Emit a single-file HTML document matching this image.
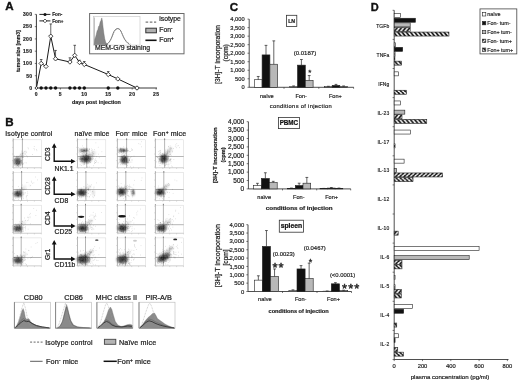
<!DOCTYPE html>
<html><head><meta charset="utf-8"><title>Figure</title>
<style>
html,body{margin:0;padding:0;background:#fff;}
svg{display:block;font-family:'Liberation Sans', sans-serif;filter:blur(0.3px);}
</style></head>
<body>
<svg width="520" height="385" viewBox="0 0 520 385">
<rect x="0" y="0" width="520" height="385" fill="#fff"/>
<text x="5.20" y="10.20" font-size="11.6" text-anchor="start" font-weight="bold" fill="#111" stroke="#111" stroke-width="0.37">A</text>
<line x1="36.40" y1="14.38" x2="36.40" y2="88.00" stroke="#222" stroke-width="0.9"/>
<line x1="36.40" y1="88.00" x2="157.00" y2="88.00" stroke="#222" stroke-width="0.9"/>
<line x1="34.80" y1="88.00" x2="36.40" y2="88.00" stroke="#222" stroke-width="0.6"/>
<text x="32.40" y="89.80" font-size="5.0" text-anchor="end" font-weight="bold" fill="#222" stroke="#222" stroke-width="0.16" letter-spacing="0.35">0</text>
<line x1="34.80" y1="75.73" x2="36.40" y2="75.73" stroke="#222" stroke-width="0.6"/>
<text x="32.40" y="77.53" font-size="5.0" text-anchor="end" font-weight="bold" fill="#222" stroke="#222" stroke-width="0.16" letter-spacing="0.35">50</text>
<line x1="34.80" y1="63.46" x2="36.40" y2="63.46" stroke="#222" stroke-width="0.6"/>
<text x="32.40" y="65.26" font-size="5.0" text-anchor="end" font-weight="bold" fill="#222" stroke="#222" stroke-width="0.16" letter-spacing="0.35">100</text>
<line x1="34.80" y1="51.19" x2="36.40" y2="51.19" stroke="#222" stroke-width="0.6"/>
<text x="32.40" y="52.99" font-size="5.0" text-anchor="end" font-weight="bold" fill="#222" stroke="#222" stroke-width="0.16" letter-spacing="0.35">150</text>
<line x1="34.80" y1="38.92" x2="36.40" y2="38.92" stroke="#222" stroke-width="0.6"/>
<text x="32.40" y="40.72" font-size="5.0" text-anchor="end" font-weight="bold" fill="#222" stroke="#222" stroke-width="0.16" letter-spacing="0.35">200</text>
<line x1="34.80" y1="26.65" x2="36.40" y2="26.65" stroke="#222" stroke-width="0.6"/>
<text x="32.40" y="28.45" font-size="5.0" text-anchor="end" font-weight="bold" fill="#222" stroke="#222" stroke-width="0.16" letter-spacing="0.35">250</text>
<line x1="34.80" y1="14.38" x2="36.40" y2="14.38" stroke="#222" stroke-width="0.6"/>
<text x="32.40" y="16.18" font-size="5.0" text-anchor="end" font-weight="bold" fill="#222" stroke="#222" stroke-width="0.16" letter-spacing="0.35">300</text>
<line x1="36.40" y1="88.00" x2="36.40" y2="89.60" stroke="#222" stroke-width="0.6"/>
<text x="36.40" y="96.00" font-size="5.0" text-anchor="middle" font-weight="bold" fill="#222" stroke="#222" stroke-width="0.16" letter-spacing="0.3">0</text>
<line x1="60.35" y1="88.00" x2="60.35" y2="89.60" stroke="#222" stroke-width="0.6"/>
<text x="60.35" y="96.00" font-size="5.0" text-anchor="middle" font-weight="bold" fill="#222" stroke="#222" stroke-width="0.16" letter-spacing="0.3">5</text>
<line x1="84.30" y1="88.00" x2="84.30" y2="89.60" stroke="#222" stroke-width="0.6"/>
<text x="84.30" y="96.00" font-size="5.0" text-anchor="middle" font-weight="bold" fill="#222" stroke="#222" stroke-width="0.16" letter-spacing="0.3">10</text>
<line x1="108.25" y1="88.00" x2="108.25" y2="89.60" stroke="#222" stroke-width="0.6"/>
<text x="108.25" y="96.00" font-size="5.0" text-anchor="middle" font-weight="bold" fill="#222" stroke="#222" stroke-width="0.16" letter-spacing="0.3">15</text>
<line x1="132.20" y1="88.00" x2="132.20" y2="89.60" stroke="#222" stroke-width="0.6"/>
<text x="132.20" y="96.00" font-size="5.0" text-anchor="middle" font-weight="bold" fill="#222" stroke="#222" stroke-width="0.16" letter-spacing="0.3">20</text>
<line x1="156.15" y1="88.00" x2="156.15" y2="89.60" stroke="#222" stroke-width="0.6"/>
<text x="156.15" y="96.00" font-size="5.0" text-anchor="middle" font-weight="bold" fill="#222" stroke="#222" stroke-width="0.16" letter-spacing="0.3">25</text>
<text x="96.40" y="104.40" font-size="5.4" text-anchor="middle" font-weight="bold" fill="#222" stroke="#222" stroke-width="0.17">days post injection</text>
<text x="19.70" y="51.20" font-size="5.05" text-anchor="middle" font-weight="bold" fill="#222" stroke="#222" stroke-width="0.16" transform="rotate(-90 19.7 51.2)">tumor size [mm3]</text>
<polyline fill="none" stroke="#1a1a1a" stroke-width="1.0" points="36.40,88.00 41.19,63.46 45.98,66.40 50.77,36.22 55.56,58.80 69.93,61.99 74.72,55.36 79.51,62.48 84.30,64.44 108.25,74.50 117.83,78.92 136.99,88.00"/>
<line x1="41.19" y1="63.46" x2="41.19" y2="59.53" stroke="#222" stroke-width="0.7"/>
<line x1="39.89" y1="59.53" x2="42.49" y2="59.53" stroke="#222" stroke-width="0.7"/>
<line x1="50.77" y1="36.22" x2="50.77" y2="23.95" stroke="#222" stroke-width="0.7"/>
<line x1="49.47" y1="23.95" x2="52.07" y2="23.95" stroke="#222" stroke-width="0.7"/>
<line x1="55.56" y1="58.80" x2="55.56" y2="50.45" stroke="#222" stroke-width="0.7"/>
<line x1="54.26" y1="50.45" x2="56.86" y2="50.45" stroke="#222" stroke-width="0.7"/>
<line x1="69.93" y1="61.99" x2="69.93" y2="57.82" stroke="#222" stroke-width="0.7"/>
<line x1="68.63" y1="57.82" x2="71.23" y2="57.82" stroke="#222" stroke-width="0.7"/>
<line x1="74.72" y1="55.36" x2="74.72" y2="45.30" stroke="#222" stroke-width="0.7"/>
<line x1="73.42" y1="45.30" x2="76.02" y2="45.30" stroke="#222" stroke-width="0.7"/>
<line x1="79.51" y1="62.48" x2="79.51" y2="60.27" stroke="#222" stroke-width="0.7"/>
<line x1="78.21" y1="60.27" x2="80.81" y2="60.27" stroke="#222" stroke-width="0.7"/>
<line x1="84.30" y1="64.44" x2="84.30" y2="61.50" stroke="#222" stroke-width="0.7"/>
<line x1="83.00" y1="61.50" x2="85.60" y2="61.50" stroke="#222" stroke-width="0.7"/>
<line x1="108.25" y1="74.50" x2="108.25" y2="71.56" stroke="#222" stroke-width="0.7"/>
<line x1="106.95" y1="71.56" x2="109.55" y2="71.56" stroke="#222" stroke-width="0.7"/>
<circle cx="41.19" cy="88.00" r="1.7" fill="#111"/>
<circle cx="45.98" cy="88.00" r="1.7" fill="#111"/>
<circle cx="50.77" cy="88.00" r="1.7" fill="#111"/>
<circle cx="55.56" cy="88.00" r="1.7" fill="#111"/>
<circle cx="69.93" cy="88.00" r="1.7" fill="#111"/>
<circle cx="74.72" cy="88.00" r="1.7" fill="#111"/>
<circle cx="79.51" cy="88.00" r="1.7" fill="#111"/>
<circle cx="84.30" cy="88.00" r="1.7" fill="#111"/>
<circle cx="108.25" cy="88.00" r="1.7" fill="#111"/>
<circle cx="117.83" cy="88.00" r="1.7" fill="#111"/>
<circle cx="136.99" cy="88.00" r="1.7" fill="#111"/>
<polygon points="36.40,86.50 37.90,88.00 36.40,89.50 34.90,88.00" fill="#fff" stroke="#1a1a1a" stroke-width="0.8"/>
<polygon points="41.19,61.26 43.39,63.46 41.19,65.66 38.99,63.46" fill="#fff" stroke="#1a1a1a" stroke-width="0.8"/>
<polygon points="45.98,64.20 48.18,66.40 45.98,68.60 43.78,66.40" fill="#fff" stroke="#1a1a1a" stroke-width="0.8"/>
<polygon points="50.77,34.02 52.97,36.22 50.77,38.42 48.57,36.22" fill="#fff" stroke="#1a1a1a" stroke-width="0.8"/>
<polygon points="55.56,56.60 57.76,58.80 55.56,61.00 53.36,58.80" fill="#fff" stroke="#1a1a1a" stroke-width="0.8"/>
<polygon points="69.93,59.79 72.13,61.99 69.93,64.19 67.73,61.99" fill="#fff" stroke="#1a1a1a" stroke-width="0.8"/>
<polygon points="74.72,53.16 76.92,55.36 74.72,57.56 72.52,55.36" fill="#fff" stroke="#1a1a1a" stroke-width="0.8"/>
<polygon points="79.51,60.28 81.71,62.48 79.51,64.68 77.31,62.48" fill="#fff" stroke="#1a1a1a" stroke-width="0.8"/>
<polygon points="84.30,62.24 86.50,64.44 84.30,66.64 82.10,64.44" fill="#fff" stroke="#1a1a1a" stroke-width="0.8"/>
<polygon points="108.25,72.30 110.45,74.50 108.25,76.70 106.05,74.50" fill="#fff" stroke="#1a1a1a" stroke-width="0.8"/>
<polygon points="117.83,76.72 120.03,78.92 117.83,81.12 115.63,78.92" fill="#fff" stroke="#1a1a1a" stroke-width="0.8"/>
<polygon points="136.99,85.80 139.19,88.00 136.99,90.20 134.79,88.00" fill="#fff" stroke="#1a1a1a" stroke-width="0.8"/>
<line x1="39.40" y1="14.40" x2="50.40" y2="14.40" stroke="#222" stroke-width="1.0"/>
<circle cx="45" cy="14.4" r="1.5" fill="#111"/>
<text x="52.30" y="16.00" font-size="4.6" text-anchor="start" font-weight="bold" fill="#222" stroke="#222" stroke-width="0.15">Fon-</text>
<line x1="39.40" y1="20.90" x2="50.40" y2="20.90" stroke="#222" stroke-width="1.0"/>
<polygon points="45,19 46.9,20.9 45,22.8 43.1,20.9" fill="#fff" stroke="#1a1a1a" stroke-width="0.7"/>
<text x="52.30" y="22.50" font-size="4.6" text-anchor="start" font-weight="bold" fill="#222" stroke="#222" stroke-width="0.15">Fon+</text>
<rect x="89.60" y="13.50" width="94.40" height="40.30" fill="#fff" stroke="#6a6a6a" stroke-width="1.0"/>
<rect x="93.50" y="16.50" width="46.50" height="28.60" fill="#fff" stroke="#c4c4c4" stroke-width="0.6"/>
<line x1="94.40" y1="17.50" x2="94.40" y2="45.00" stroke="#777" stroke-width="0.5"/>
<path d="M94.3,44.8 L94.8,39.5 L95.6,37 L96.3,34.5 L97.1,31 L97.9,29.5 L98.6,26.4 L99.4,25.6 L100.2,22 L101,20.4 L101.8,17.9 L102.4,21 L103.1,27.6 L103.9,33.6 L104.7,38.6 L105.6,42 L106.8,44.2 L108,44.8 Z" fill="#868686" stroke="#6a6a6a" stroke-width="0.4"/>
<path d="M105.5,44.6 C109.5,44 111.5,38 113.3,33 C115.3,28 118.8,27 120.8,31 C122.8,35 124.5,41.5 129.5,44.4" fill="none" stroke="#444" stroke-width="0.7"/>
<path d="M106,44 C110,43.4 112,37.5 113.9,32.6 C115.9,28 119.3,27.6 121.3,31.6 C123.3,36 125,42 130.5,44" fill="none" stroke="#888" stroke-width="0.6" stroke-dasharray="1 1"/>
<text x="95.00" y="50.10" font-size="6.9" text-anchor="start" font-weight="normal" fill="#222" stroke="#222" stroke-width="0.22">MEM-G/9 staining</text>
<line x1="145.60" y1="22.10" x2="156.20" y2="22.10" stroke="#777" stroke-width="1.3" stroke-dasharray="2.6 1.6"/>
<text x="159.30" y="21.40" font-size="6.8" text-anchor="start" font-weight="normal" fill="#222" stroke="#222" stroke-width="0.22">isotype</text>
<rect x="145.80" y="28.20" width="10.60" height="4.60" fill="#b0b0b0" stroke="#333" stroke-width="1.0"/>
<text x="159.30" y="32.00" font-size="6.8" text-anchor="start" font-weight="normal" fill="#222" stroke="#222" stroke-width="0.22">Fon<tspan dy="-2" font-size="4.5">-</tspan></text>
<line x1="145.40" y1="40.30" x2="156.60" y2="40.30" stroke="#111" stroke-width="1.6"/>
<text x="159.30" y="41.80" font-size="6.8" text-anchor="start" font-weight="normal" fill="#222" stroke="#222" stroke-width="0.22">Fon<tspan dy="-2" font-size="4.5">+</tspan></text>
<defs><filter id="bl" x="-50%" y="-50%" width="200%" height="200%"><feGaussianBlur stdDeviation="0.9"/></filter><filter id="bl2" x="-50%" y="-50%" width="200%" height="200%"><feGaussianBlur stdDeviation="0.5"/></filter></defs>
<text x="5.20" y="125.60" font-size="11.6" text-anchor="start" font-weight="bold" fill="#111" stroke="#111" stroke-width="0.37">B</text>
<text x="5.30" y="135.80" font-size="6.9" text-anchor="start" font-weight="normal" fill="#222" stroke="#222" stroke-width="0.22" letter-spacing="0.16">Isotype control</text>
<text x="74.50" y="135.80" font-size="6.9" text-anchor="start" font-weight="normal" fill="#222" stroke="#222" stroke-width="0.22" letter-spacing="0.16">naïve mice</text>
<text x="115.40" y="135.80" font-size="7.1" text-anchor="start" font-weight="normal" fill="#222" stroke="#222" stroke-width="0.23" letter-spacing="0.15">Fon<tspan dy="-2.2" font-size="4.8">-</tspan><tspan dy="2.2"> mice</tspan></text>
<text x="153.00" y="135.80" font-size="7.1" text-anchor="start" font-weight="normal" fill="#222" stroke="#222" stroke-width="0.23" letter-spacing="0.15">Fon<tspan dy="-2.2" font-size="4.8">+</tspan><tspan dy="2.2"> mice</tspan></text>
<rect x="13.20" y="139.80" width="28.30" height="28.00" fill="#fff" stroke="#d4d4d4" stroke-width="0.5"/>
<line x1="13.20" y1="139.80" x2="13.20" y2="167.80" stroke="#999" stroke-width="0.6"/>
<line x1="13.20" y1="167.80" x2="41.50" y2="167.80" stroke="#bdbdbd" stroke-width="0.5"/>
<line x1="22.40" y1="139.00" x2="22.40" y2="167.80" stroke="#858585" stroke-width="0.6"/>
<line x1="13.20" y1="156.50" x2="41.50" y2="156.50" stroke="#858585" stroke-width="0.6"/>
<line x1="13.70" y1="167.80" x2="13.70" y2="169.00" stroke="#bbb" stroke-width="0.5"/>
<line x1="12.00" y1="140.80" x2="13.20" y2="140.80" stroke="#bbb" stroke-width="0.5"/>
<line x1="20.60" y1="167.80" x2="20.60" y2="169.00" stroke="#bbb" stroke-width="0.5"/>
<line x1="12.00" y1="147.40" x2="13.20" y2="147.40" stroke="#bbb" stroke-width="0.5"/>
<line x1="27.50" y1="167.80" x2="27.50" y2="169.00" stroke="#bbb" stroke-width="0.5"/>
<line x1="12.00" y1="154.00" x2="13.20" y2="154.00" stroke="#bbb" stroke-width="0.5"/>
<line x1="34.40" y1="167.80" x2="34.40" y2="169.00" stroke="#bbb" stroke-width="0.5"/>
<line x1="12.00" y1="160.60" x2="13.20" y2="160.60" stroke="#bbb" stroke-width="0.5"/>
<line x1="41.30" y1="167.80" x2="41.30" y2="169.00" stroke="#bbb" stroke-width="0.5"/>
<line x1="12.00" y1="167.20" x2="13.20" y2="167.20" stroke="#bbb" stroke-width="0.5"/>
<line x1="13.20" y1="138.60" x2="13.20" y2="139.80" stroke="#888" stroke-width="0.8"/>
<line x1="22.40" y1="138.40" x2="22.40" y2="139.80" stroke="#777" stroke-width="0.9"/>
<ellipse cx="17.60" cy="161.50" rx="3.7" ry="4.1" fill="#000" opacity="0.52" filter="url(#bl)"/>
<ellipse cx="17.60" cy="161.50" rx="1.9" ry="2.3" fill="#000" opacity="0.26" filter="url(#bl)"/>
<ellipse cx="22.20" cy="154.80" rx="5" ry="1.6" fill="#000" opacity="0.1" filter="url(#bl)" transform="rotate(-45 22.20 154.80)"/>
<path d="M16.7,163.5h0.6M16.8,160.3h0.6M14.3,160.7h0.6M21.5,163.2h0.6M21.2,162.5h0.6M19.0,162.2h0.6M19.4,163.4h0.6M14.5,159.7h0.6M18.7,161.3h0.6M19.4,159.0h0.6M18.7,163.0h0.6M19.6,166.2h0.6M15.4,158.6h0.6M16.4,161.1h0.6M19.8,162.5h0.6M16.0,157.8h0.6M15.8,166.3h0.6M14.8,162.5h0.6M19.1,155.7h0.6M17.8,166.6h0.6M17.2,158.3h0.6M19.3,161.3h0.6M20.0,165.2h0.6M22.7,162.9h0.6M18.0,156.4h0.6M19.8,159.1h0.6M16.0,156.6h0.6M14.2,159.4h0.6M22.1,153.6h0.6M22.7,163.8h0.6M18.9,158.6h0.6M21.5,162.1h0.6M18.5,163.2h0.6M23.2,163.9h0.6M19.4,163.6h0.6M21.0,163.6h0.6M20.6,154.4h0.6M17.0,165.5h0.6M19.5,160.9h0.6M18.7,164.0h0.6M18.0,166.0h0.6M15.3,159.9h0.6M21.3,161.6h0.6M14.5,165.2h0.6M22.8,159.8h0.6M17.1,160.3h0.6M22.5,157.5h0.6M22.0,156.6h0.6M14.8,164.0h0.6M21.6,164.8h0.6M18.8,162.1h0.6M18.1,163.7h0.6M17.0,162.6h0.6M19.6,161.5h0.6M20.3,163.7h0.6M24.7,162.8h0.6M16.1,160.0h0.6M17.6,165.1h0.6M16.4,163.0h0.6M24.1,151.5h0.6M19.0,162.4h0.6M16.1,164.1h0.6M18.6,159.5h0.6M26.1,162.9h0.6M15.7,161.1h0.6M16.8,161.3h0.6M21.1,156.9h0.6M17.4,165.2h0.6M16.4,163.9h0.6M21.4,151.1h0.6M21.4,155.9h0.6M20.0,155.7h0.6M18.2,166.2h0.6M17.1,162.2h0.6M20.4,162.1h0.6M21.3,160.4h0.6M27.2,157.0h0.6M20.8,160.5h0.6M18.1,164.2h0.6M18.4,164.0h0.6M19.8,157.7h0.6M14.0,155.8h0.6M22.1,164.4h0.6M22.8,157.8h0.6M17.6,157.1h0.6M21.1,160.8h0.6M17.3,159.2h0.6M19.0,163.1h0.6M22.9,157.5h0.6M19.7,164.7h0.6M20.2,161.1h0.6M16.3,163.7h0.6M17.8,161.8h0.6M20.2,160.9h0.6M14.3,163.3h0.6M18.2,160.2h0.6M17.6,163.3h0.6M17.7,164.4h0.6M17.5,163.8h0.6M20.3,165.0h0.6M16.4,163.4h0.6M14.2,159.1h0.6M14.1,163.8h0.6M18.0,158.9h0.6M21.5,155.4h0.6M20.5,157.0h0.6M28.3,148.8h0.6M25.1,154.1h0.6M20.2,154.1h0.6M21.5,157.8h0.6M16.0,159.7h0.6M26.4,152.3h0.6M23.1,155.6h0.6M21.5,153.0h0.6M27.7,147.8h0.6M23.1,153.1h0.6M25.6,151.3h0.6M21.7,153.9h0.6M33.9,146.5h0.6M16.5,156.2h0.6M33.7,148.5h0.6M26.5,155.6h0.6M15.8,158.1h0.6M36.1,149.5h0.6M32.2,154.5h0.6M36.6,150.7h0.6M17.5,156.2h0.6M34.1,149.8h0.6" stroke="#000" stroke-width="0.6" opacity="0.28" fill="none"/>
<rect x="77.50" y="139.80" width="28.30" height="28.00" fill="#fff" stroke="#d4d4d4" stroke-width="0.5"/>
<line x1="77.50" y1="139.80" x2="77.50" y2="167.80" stroke="#999" stroke-width="0.6"/>
<line x1="77.50" y1="167.80" x2="105.80" y2="167.80" stroke="#bdbdbd" stroke-width="0.5"/>
<line x1="86.70" y1="139.00" x2="86.70" y2="167.80" stroke="#858585" stroke-width="0.6"/>
<line x1="77.50" y1="156.50" x2="105.80" y2="156.50" stroke="#858585" stroke-width="0.6"/>
<line x1="78.00" y1="167.80" x2="78.00" y2="169.00" stroke="#bbb" stroke-width="0.5"/>
<line x1="76.30" y1="140.80" x2="77.50" y2="140.80" stroke="#bbb" stroke-width="0.5"/>
<line x1="84.90" y1="167.80" x2="84.90" y2="169.00" stroke="#bbb" stroke-width="0.5"/>
<line x1="76.30" y1="147.40" x2="77.50" y2="147.40" stroke="#bbb" stroke-width="0.5"/>
<line x1="91.80" y1="167.80" x2="91.80" y2="169.00" stroke="#bbb" stroke-width="0.5"/>
<line x1="76.30" y1="154.00" x2="77.50" y2="154.00" stroke="#bbb" stroke-width="0.5"/>
<line x1="98.70" y1="167.80" x2="98.70" y2="169.00" stroke="#bbb" stroke-width="0.5"/>
<line x1="76.30" y1="160.60" x2="77.50" y2="160.60" stroke="#bbb" stroke-width="0.5"/>
<line x1="105.60" y1="167.80" x2="105.60" y2="169.00" stroke="#bbb" stroke-width="0.5"/>
<line x1="76.30" y1="167.20" x2="77.50" y2="167.20" stroke="#bbb" stroke-width="0.5"/>
<line x1="77.50" y1="138.60" x2="77.50" y2="139.80" stroke="#888" stroke-width="0.8"/>
<line x1="86.70" y1="138.40" x2="86.70" y2="139.80" stroke="#777" stroke-width="0.9"/>
<ellipse cx="85.70" cy="158.80" rx="6.0" ry="4.0" fill="#000" opacity="0.5" filter="url(#bl)"/>
<ellipse cx="85.70" cy="158.80" rx="3" ry="2" fill="#000" opacity="0.42" filter="url(#bl)"/>
<ellipse cx="83.70" cy="150.50" rx="4.6" ry="1.4" fill="#000" opacity="0.48" filter="url(#bl)"/>
<ellipse cx="83.70" cy="150.50" rx="2.6" ry="0.8" fill="#000" opacity="0.3" filter="url(#bl)"/>
<ellipse cx="91.50" cy="154.80" rx="5" ry="2" fill="#000" opacity="0.12" filter="url(#bl)" transform="rotate(-35 91.50 154.80)"/>
<path d="M80.5,158.5h0.6M87.4,161.9h0.6M85.5,158.1h0.6M79.9,157.4h0.6M90.8,159.2h0.6M80.8,155.6h0.6M100.9,163.1h0.6M89.3,148.9h0.6M89.2,160.6h0.6M95.3,160.4h0.6M85.3,160.8h0.6M87.6,156.1h0.6M93.3,165.7h0.6M87.4,159.5h0.6M83.4,155.1h0.6M97.8,162.7h0.6M78.9,153.7h0.6M95.4,162.6h0.6M96.1,161.9h0.6M80.7,159.8h0.6M85.4,160.8h0.6M81.6,158.3h0.6M88.3,160.2h0.6M89.3,159.6h0.6M83.9,161.8h0.6M86.0,155.7h0.6M82.1,158.8h0.6M85.1,159.4h0.6M85.7,159.5h0.6M84.9,154.0h0.6M88.1,162.8h0.6M88.2,158.1h0.6M88.2,155.1h0.6M80.4,161.6h0.6M79.5,148.8h0.6M79.8,164.8h0.6M83.5,153.6h0.6M81.3,160.8h0.6M88.5,159.5h0.6M94.2,161.5h0.6M85.6,161.1h0.6M95.1,162.5h0.6M91.5,154.7h0.6M84.9,161.6h0.6M84.0,162.9h0.6M89.1,162.3h0.6M92.8,158.0h0.6M83.7,162.1h0.6M91.3,158.8h0.6M79.0,159.5h0.6M87.7,163.1h0.6M90.2,158.9h0.6M90.6,160.9h0.6M86.9,159.0h0.6M84.3,161.4h0.6M79.7,156.4h0.6M85.7,153.2h0.6M83.2,151.2h0.6M81.8,161.0h0.6M88.9,158.6h0.6M84.4,153.4h0.6M96.1,160.8h0.6M91.9,155.4h0.6M84.6,151.9h0.6M90.1,162.4h0.6M89.3,152.1h0.6M82.1,153.5h0.6M85.9,159.7h0.6M89.3,161.5h0.6M94.3,163.2h0.6M78.2,156.9h0.6M79.7,154.7h0.6M85.2,158.8h0.6M88.5,152.8h0.6M78.6,158.7h0.6M84.6,157.6h0.6M85.3,155.9h0.6M89.7,160.1h0.6M85.2,156.2h0.6M84.7,148.5h0.6M80.1,158.9h0.6M86.5,153.6h0.6M84.3,157.6h0.6M88.3,161.1h0.6M85.5,155.6h0.6M84.9,158.6h0.6M89.9,159.9h0.6M81.6,153.7h0.6M83.6,156.0h0.6M79.4,158.4h0.6M82.9,159.2h0.6M88.7,157.2h0.6M98.9,157.6h0.6M92.0,159.3h0.6M92.1,149.8h0.6M81.4,159.7h0.6M87.5,163.7h0.6M90.1,162.4h0.6M88.6,158.2h0.6M88.6,154.7h0.6M92.4,154.9h0.6M87.1,166.9h0.6M84.4,158.9h0.6M92.3,158.9h0.6M81.1,159.8h0.6M89.0,161.5h0.6M81.3,165.5h0.6M95.2,158.9h0.6M87.2,157.2h0.6M93.8,156.1h0.6M89.5,157.0h0.6M81.7,161.5h0.6M93.3,158.8h0.6M81.8,161.9h0.6M85.4,160.0h0.6M94.4,163.1h0.6M85.7,161.8h0.6M82.0,158.6h0.6M93.5,154.2h0.6M92.4,157.1h0.6M85.4,157.6h0.6M85.0,154.7h0.6M85.8,153.3h0.6M85.3,160.0h0.6M88.4,157.9h0.6M80.5,159.4h0.6M82.9,164.8h0.6M90.1,158.4h0.6M83.0,156.1h0.6M80.4,157.5h0.6M87.4,160.8h0.6M88.9,166.8h0.6M81.7,158.8h0.6M101.6,151.7h0.6M82.7,159.4h0.6M86.6,160.3h0.6M84.3,160.2h0.6M86.0,161.7h0.6M85.7,154.9h0.6M79.7,161.2h0.6M82.0,161.2h0.6M90.0,160.0h0.6M88.6,158.4h0.6M88.3,156.8h0.6M85.1,161.6h0.6M80.7,161.2h0.6M96.3,156.7h0.6M86.5,158.2h0.6M94.5,160.0h0.6M90.8,156.2h0.6M85.6,158.8h0.6M90.8,152.2h0.6M87.8,158.6h0.6M87.0,159.5h0.6M81.4,158.4h0.6M90.0,157.7h0.6M82.8,156.2h0.6M82.2,159.4h0.6M90.5,159.6h0.6M86.4,163.0h0.6M84.2,157.5h0.6M87.2,159.8h0.6M82.8,156.6h0.6M86.5,159.3h0.6M82.0,158.4h0.6M84.2,159.7h0.6M85.4,158.6h0.6M84.7,160.8h0.6M89.7,158.1h0.6M88.1,157.4h0.6M85.9,160.2h0.6M90.0,158.1h0.6M85.5,159.2h0.6M81.4,158.8h0.6M83.8,159.5h0.6M82.5,155.0h0.6M85.8,159.3h0.6M84.1,160.5h0.6M84.9,157.6h0.6M87.1,155.8h0.6M83.8,158.8h0.6M88.1,158.5h0.6M86.6,157.6h0.6M86.6,162.0h0.6M83.7,163.3h0.6M83.9,158.8h0.6M86.2,160.7h0.6M78.3,147.7h0.6M86.3,151.6h0.6M86.4,154.0h0.6M84.6,150.8h0.6M87.8,151.0h0.6M91.0,148.9h0.6M82.1,145.9h0.6M87.3,150.0h0.6M87.7,153.4h0.6M83.7,150.2h0.6M81.5,149.4h0.6M80.9,151.4h0.6M83.9,150.6h0.6M82.9,151.7h0.6M85.9,150.3h0.6M86.6,150.3h0.6M78.7,152.4h0.6M85.7,149.2h0.6M88.4,151.0h0.6M85.2,151.7h0.6M84.6,150.3h0.6M83.8,150.1h0.6M85.2,150.6h0.6M86.7,150.0h0.6M83.5,147.7h0.6M81.9,151.4h0.6M89.5,150.0h0.6M83.2,152.6h0.6M82.3,151.5h0.6M91.0,150.6h0.6M89.1,149.6h0.6M84.6,150.4h0.6M84.2,152.0h0.6M94.1,149.6h0.6M81.2,151.2h0.6M79.1,151.2h0.6M86.2,150.1h0.6M86.0,148.4h0.6M87.0,148.4h0.6M80.7,149.8h0.6M81.9,151.6h0.6M83.9,150.2h0.6M85.0,151.7h0.6M83.7,150.8h0.6M86.8,150.7h0.6M80.5,152.4h0.6M89.2,149.0h0.6M83.6,150.8h0.6M86.1,151.0h0.6M89.3,153.9h0.6M93.0,156.1h0.6M86.1,156.2h0.6M89.3,151.9h0.6M90.0,154.8h0.6M92.5,152.5h0.6M87.6,156.6h0.6M90.6,153.9h0.6M92.4,155.9h0.6M98.0,154.2h0.6M88.0,156.3h0.6M83.9,164.5h0.6M88.6,156.7h0.6M92.1,151.3h0.6M93.3,153.5h0.6M84.7,160.2h0.6M97.9,147.3h0.6M87.4,158.5h0.6M95.6,142.8h0.6M89.5,154.3h0.6M86.6,152.9h0.6M80.1,159.2h0.6M84.0,159.8h0.6M84.5,162.1h0.6M93.6,151.4h0.6M86.4,155.6h0.6M87.9,160.9h0.6M92.4,153.3h0.6M85.4,154.7h0.6M84.1,164.1h0.6" stroke="#000" stroke-width="0.6" opacity="0.28" fill="none"/>
<rect x="117.40" y="139.80" width="28.30" height="28.00" fill="#fff" stroke="#d4d4d4" stroke-width="0.5"/>
<line x1="117.40" y1="139.80" x2="117.40" y2="167.80" stroke="#999" stroke-width="0.6"/>
<line x1="117.40" y1="167.80" x2="145.70" y2="167.80" stroke="#bdbdbd" stroke-width="0.5"/>
<line x1="126.60" y1="139.00" x2="126.60" y2="167.80" stroke="#858585" stroke-width="0.6"/>
<line x1="117.40" y1="156.50" x2="145.70" y2="156.50" stroke="#858585" stroke-width="0.6"/>
<line x1="117.90" y1="167.80" x2="117.90" y2="169.00" stroke="#bbb" stroke-width="0.5"/>
<line x1="116.20" y1="140.80" x2="117.40" y2="140.80" stroke="#bbb" stroke-width="0.5"/>
<line x1="124.80" y1="167.80" x2="124.80" y2="169.00" stroke="#bbb" stroke-width="0.5"/>
<line x1="116.20" y1="147.40" x2="117.40" y2="147.40" stroke="#bbb" stroke-width="0.5"/>
<line x1="131.70" y1="167.80" x2="131.70" y2="169.00" stroke="#bbb" stroke-width="0.5"/>
<line x1="116.20" y1="154.00" x2="117.40" y2="154.00" stroke="#bbb" stroke-width="0.5"/>
<line x1="138.60" y1="167.80" x2="138.60" y2="169.00" stroke="#bbb" stroke-width="0.5"/>
<line x1="116.20" y1="160.60" x2="117.40" y2="160.60" stroke="#bbb" stroke-width="0.5"/>
<line x1="145.50" y1="167.80" x2="145.50" y2="169.00" stroke="#bbb" stroke-width="0.5"/>
<line x1="116.20" y1="167.20" x2="117.40" y2="167.20" stroke="#bbb" stroke-width="0.5"/>
<line x1="117.40" y1="138.60" x2="117.40" y2="139.80" stroke="#888" stroke-width="0.8"/>
<line x1="126.60" y1="138.40" x2="126.60" y2="139.80" stroke="#777" stroke-width="0.9"/>
<ellipse cx="124.20" cy="159.70" rx="3.9" ry="4.0" fill="#000" opacity="0.55" filter="url(#bl)"/>
<ellipse cx="124.20" cy="159.70" rx="2" ry="2.2" fill="#000" opacity="0.4" filter="url(#bl)"/>
<ellipse cx="122.60" cy="150.40" rx="4.4" ry="1.4" fill="#000" opacity="0.58" filter="url(#bl)"/>
<ellipse cx="122.60" cy="150.40" rx="2.6" ry="0.8" fill="#000" opacity="0.35" filter="url(#bl)"/>
<path d="M121.6,161.4h0.6M122.4,164.2h0.6M121.8,162.8h0.6M132.4,150.0h0.6M122.6,161.6h0.6M123.9,157.2h0.6M132.2,160.0h0.6M118.1,162.9h0.6M122.1,160.3h0.6M128.9,160.1h0.6M119.0,153.3h0.6M128.6,162.5h0.6M121.2,163.0h0.6M126.0,162.2h0.6M127.5,162.5h0.6M127.5,150.4h0.6M124.8,161.6h0.6M133.7,156.1h0.6M123.0,159.8h0.6M127.5,158.0h0.6M128.5,156.7h0.6M125.2,157.7h0.6M124.8,157.1h0.6M118.3,163.9h0.6M125.3,157.6h0.6M124.9,163.5h0.6M120.6,159.3h0.6M126.2,161.7h0.6M123.0,151.7h0.6M128.8,160.9h0.6M124.2,158.6h0.6M125.2,158.1h0.6M120.4,156.9h0.6M122.0,157.4h0.6M119.9,162.1h0.6M119.3,162.2h0.6M120.4,161.0h0.6M129.3,160.5h0.6M121.5,159.9h0.6M124.7,153.1h0.6M121.9,160.3h0.6M122.5,160.0h0.6M126.9,162.6h0.6M127.6,161.9h0.6M123.1,159.6h0.6M123.2,158.5h0.6M123.5,153.1h0.6M123.0,159.6h0.6M120.6,159.6h0.6M126.1,159.1h0.6M131.9,149.8h0.6M123.4,152.8h0.6M126.1,158.6h0.6M126.2,151.2h0.6M127.4,161.1h0.6M124.3,157.5h0.6M126.6,157.9h0.6M125.0,157.8h0.6M124.9,162.6h0.6M121.0,159.6h0.6M126.5,160.3h0.6M120.8,152.4h0.6M127.4,165.5h0.6M127.6,162.8h0.6M121.9,157.0h0.6M127.5,156.2h0.6M133.4,167.0h0.6M121.7,156.9h0.6M125.1,156.9h0.6M129.1,159.4h0.6M120.2,164.7h0.6M122.0,160.5h0.6M124.2,158.5h0.6M125.4,157.1h0.6M119.5,156.8h0.6M124.1,159.9h0.6M126.3,160.2h0.6M121.3,157.0h0.6M126.0,161.7h0.6M123.8,159.0h0.6M127.7,159.8h0.6M126.9,161.9h0.6M125.0,164.7h0.6M122.1,158.3h0.6M121.2,156.7h0.6M130.0,166.4h0.6M124.3,161.9h0.6M128.6,162.8h0.6M128.7,154.9h0.6M121.8,161.4h0.6M129.5,160.1h0.6M121.0,158.4h0.6M121.8,156.4h0.6M129.8,157.3h0.6M128.6,161.0h0.6M121.9,161.3h0.6M130.2,162.1h0.6M128.9,160.1h0.6M126.1,158.9h0.6M125.8,164.6h0.6M118.9,159.5h0.6M125.1,157.5h0.6M123.1,162.7h0.6M131.6,162.1h0.6M125.4,153.8h0.6M131.3,160.0h0.6M124.1,155.5h0.6M124.0,155.5h0.6M124.5,161.5h0.6M124.3,160.3h0.6M122.6,162.7h0.6M123.0,155.9h0.6M123.8,158.1h0.6M122.3,159.0h0.6M124.8,157.2h0.6M123.9,162.7h0.6M125.5,159.4h0.6M124.4,159.4h0.6M124.1,161.2h0.6M124.0,154.7h0.6M124.2,157.8h0.6M125.4,158.4h0.6M124.5,164.3h0.6M122.2,157.3h0.6M121.5,154.7h0.6M120.6,160.5h0.6M123.0,155.8h0.6M121.4,161.0h0.6M122.7,158.9h0.6M124.8,162.5h0.6M127.9,161.9h0.6M124.5,160.1h0.6M127.6,162.7h0.6M121.3,151.0h0.6M123.8,150.5h0.6M120.5,148.6h0.6M120.4,148.3h0.6M127.7,151.1h0.6M126.3,147.9h0.6M130.3,151.5h0.6M131.2,148.8h0.6M124.8,151.0h0.6M123.4,150.6h0.6M127.0,148.4h0.6M120.3,149.6h0.6M124.1,150.8h0.6M122.7,149.5h0.6M120.8,151.7h0.6M125.8,150.5h0.6M121.3,152.5h0.6M120.1,151.3h0.6M127.4,150.0h0.6M126.1,148.9h0.6M126.8,150.7h0.6M118.9,152.1h0.6M119.8,150.2h0.6M123.8,150.0h0.6M123.7,149.7h0.6M125.4,150.4h0.6M123.5,146.7h0.6M127.5,150.4h0.6M124.6,151.8h0.6M118.1,152.5h0.6M121.9,153.6h0.6M122.0,151.3h0.6M121.1,148.9h0.6M127.2,151.6h0.6M129.0,151.5h0.6M120.2,148.2h0.6M119.9,149.5h0.6M119.2,151.2h0.6M124.0,150.0h0.6M123.3,150.2h0.6M123.5,151.4h0.6M126.6,149.5h0.6M123.1,151.9h0.6M122.7,148.5h0.6M121.3,151.0h0.6M125.3,151.6h0.6M120.5,149.3h0.6M123.9,151.1h0.6M123.1,149.4h0.6M124.5,151.0h0.6M124.0,150.0h0.6M123.4,151.0h0.6M121.2,149.0h0.6M123.4,150.8h0.6M124.1,160.7h0.6M122.9,161.2h0.6M139.8,144.2h0.6M141.4,146.8h0.6M141.1,141.7h0.6M130.1,157.9h0.6M123.1,163.0h0.6M131.2,150.3h0.6M131.5,156.8h0.6M128.2,150.7h0.6M125.7,153.4h0.6M129.3,158.7h0.6M138.5,143.6h0.6" stroke="#000" stroke-width="0.6" opacity="0.28" fill="none"/>
<rect x="155.40" y="139.80" width="28.30" height="28.00" fill="#fff" stroke="#d4d4d4" stroke-width="0.5"/>
<line x1="155.40" y1="139.80" x2="155.40" y2="167.80" stroke="#999" stroke-width="0.6"/>
<line x1="155.40" y1="167.80" x2="183.70" y2="167.80" stroke="#bdbdbd" stroke-width="0.5"/>
<line x1="164.60" y1="139.00" x2="164.60" y2="167.80" stroke="#858585" stroke-width="0.6"/>
<line x1="155.40" y1="156.50" x2="183.70" y2="156.50" stroke="#858585" stroke-width="0.6"/>
<line x1="155.90" y1="167.80" x2="155.90" y2="169.00" stroke="#bbb" stroke-width="0.5"/>
<line x1="154.20" y1="140.80" x2="155.40" y2="140.80" stroke="#bbb" stroke-width="0.5"/>
<line x1="162.80" y1="167.80" x2="162.80" y2="169.00" stroke="#bbb" stroke-width="0.5"/>
<line x1="154.20" y1="147.40" x2="155.40" y2="147.40" stroke="#bbb" stroke-width="0.5"/>
<line x1="169.70" y1="167.80" x2="169.70" y2="169.00" stroke="#bbb" stroke-width="0.5"/>
<line x1="154.20" y1="154.00" x2="155.40" y2="154.00" stroke="#bbb" stroke-width="0.5"/>
<line x1="176.60" y1="167.80" x2="176.60" y2="169.00" stroke="#bbb" stroke-width="0.5"/>
<line x1="154.20" y1="160.60" x2="155.40" y2="160.60" stroke="#bbb" stroke-width="0.5"/>
<line x1="183.50" y1="167.80" x2="183.50" y2="169.00" stroke="#bbb" stroke-width="0.5"/>
<line x1="154.20" y1="167.20" x2="155.40" y2="167.20" stroke="#bbb" stroke-width="0.5"/>
<line x1="155.40" y1="138.60" x2="155.40" y2="139.80" stroke="#888" stroke-width="0.8"/>
<line x1="164.60" y1="138.40" x2="164.60" y2="139.80" stroke="#777" stroke-width="0.9"/>
<ellipse cx="163.80" cy="158.80" rx="4.2" ry="4.2" fill="#000" opacity="0.55" filter="url(#bl)"/>
<ellipse cx="163.80" cy="158.80" rx="2.2" ry="2.2" fill="#000" opacity="0.45" filter="url(#bl)"/>
<ellipse cx="167.90" cy="152.30" rx="6" ry="1.9" fill="#000" opacity="0.2" filter="url(#bl)" transform="rotate(-50 167.90 152.30)"/>
<path d="M167.4,154.0h0.6M161.0,155.4h0.6M161.6,164.0h0.6M167.2,161.2h0.6M165.1,152.6h0.6M161.7,156.6h0.6M159.9,160.8h0.6M160.8,156.0h0.6M159.6,150.6h0.6M166.2,164.1h0.6M164.5,154.9h0.6M168.7,160.0h0.6M167.5,164.7h0.6M168.3,157.0h0.6M168.0,161.9h0.6M157.7,157.2h0.6M158.1,158.4h0.6M166.1,154.5h0.6M165.3,164.7h0.6M158.5,163.0h0.6M172.1,166.8h0.6M163.0,159.9h0.6M163.2,162.8h0.6M167.9,159.1h0.6M158.4,161.8h0.6M161.9,161.3h0.6M164.8,165.3h0.6M168.3,157.0h0.6M165.2,165.8h0.6M161.7,160.5h0.6M168.6,163.8h0.6M165.9,153.5h0.6M158.8,159.8h0.6M160.4,163.3h0.6M166.9,152.1h0.6M160.5,159.5h0.6M161.8,158.2h0.6M165.7,155.6h0.6M165.7,156.3h0.6M161.6,160.9h0.6M161.5,159.9h0.6M170.2,158.9h0.6M163.2,161.7h0.6M162.3,163.1h0.6M158.7,161.3h0.6M161.8,155.6h0.6M170.9,155.4h0.6M170.8,161.4h0.6M169.6,154.9h0.6M168.6,164.6h0.6M163.3,158.3h0.6M173.6,159.5h0.6M162.1,156.3h0.6M165.6,160.1h0.6M164.5,165.7h0.6M162.5,160.7h0.6M169.6,154.8h0.6M167.9,166.1h0.6M158.4,154.4h0.6M159.7,151.4h0.6M165.6,151.4h0.6M165.8,164.6h0.6M157.4,157.5h0.6M156.1,161.9h0.6M160.9,157.7h0.6M164.0,161.0h0.6M162.4,158.9h0.6M161.6,159.3h0.6M159.1,159.1h0.6M156.1,156.8h0.6M171.4,159.1h0.6M158.8,159.8h0.6M159.9,152.2h0.6M160.9,161.7h0.6M165.3,158.4h0.6M160.1,154.5h0.6M169.2,159.8h0.6M160.0,150.4h0.6M159.2,158.5h0.6M164.6,158.2h0.6M162.7,153.3h0.6M159.6,165.5h0.6M160.8,162.2h0.6M157.0,157.7h0.6M164.8,162.9h0.6M159.3,161.2h0.6M165.3,155.9h0.6M165.7,155.2h0.6M160.6,158.7h0.6M159.8,153.0h0.6M162.1,161.8h0.6M162.2,163.9h0.6M159.2,153.6h0.6M170.0,160.4h0.6M167.6,155.5h0.6M167.0,159.8h0.6M166.4,158.9h0.6M168.6,156.2h0.6M160.0,152.9h0.6M168.4,155.9h0.6M159.6,155.1h0.6M162.0,153.7h0.6M162.6,156.3h0.6M161.6,155.0h0.6M163.9,157.0h0.6M164.3,159.8h0.6M165.2,150.1h0.6M161.7,155.6h0.6M166.9,152.5h0.6M160.9,157.6h0.6M162.5,162.8h0.6M162.0,162.6h0.6M158.0,151.6h0.6M168.7,160.5h0.6M165.7,159.3h0.6M165.7,153.9h0.6M167.6,156.7h0.6M167.7,159.2h0.6M168.3,158.3h0.6M162.2,159.8h0.6M162.1,156.6h0.6M164.2,159.4h0.6M169.9,159.0h0.6M171.3,166.0h0.6M170.6,163.0h0.6M164.3,159.3h0.6M163.2,155.9h0.6M163.5,156.2h0.6M170.3,160.9h0.6M162.9,154.8h0.6M163.7,157.9h0.6M161.5,156.4h0.6M159.1,160.0h0.6M163.7,164.2h0.6M163.7,158.5h0.6M166.8,159.1h0.6M164.1,158.0h0.6M162.5,161.9h0.6M165.9,162.4h0.6M163.1,158.9h0.6M162.0,160.8h0.6M160.9,160.0h0.6M166.1,161.7h0.6M161.8,161.1h0.6M162.3,157.2h0.6M161.0,161.2h0.6M167.2,157.6h0.6M162.2,158.1h0.6M169.0,160.9h0.6M162.7,155.1h0.6M162.4,161.3h0.6M167.7,158.2h0.6M162.4,157.7h0.6M159.9,160.7h0.6M161.5,161.0h0.6M160.2,156.1h0.6M164.4,157.2h0.6M165.4,158.8h0.6M161.3,160.1h0.6M168.3,146.4h0.6M175.3,144.9h0.6M168.1,146.8h0.6M164.8,155.0h0.6M169.8,145.9h0.6M161.9,153.8h0.6M167.5,153.8h0.6M160.9,159.0h0.6M172.0,151.9h0.6M169.9,149.0h0.6M162.3,156.4h0.6M165.7,155.4h0.6M170.0,154.5h0.6M167.5,149.8h0.6M174.9,146.7h0.6M167.3,151.0h0.6M159.6,159.3h0.6M170.1,147.4h0.6M163.3,158.3h0.6M169.6,151.9h0.6M172.3,151.1h0.6M166.2,157.1h0.6M165.2,157.4h0.6M168.9,151.8h0.6M171.4,148.1h0.6M173.2,148.5h0.6M167.6,151.1h0.6M164.4,155.0h0.6M167.1,153.2h0.6M169.5,147.9h0.6M169.5,156.4h0.6M170.5,153.9h0.6M176.4,147.7h0.6M159.6,163.4h0.6M162.7,162.2h0.6M170.7,148.5h0.6M179.3,147.6h0.6M170.4,159.5h0.6M160.7,156.9h0.6M176.5,143.7h0.6M170.4,159.6h0.6M178.3,145.6h0.6M160.7,162.0h0.6M176.8,145.9h0.6" stroke="#000" stroke-width="0.6" opacity="0.28" fill="none"/>
<rect x="13.20" y="172.50" width="28.30" height="28.00" fill="#fff" stroke="#d4d4d4" stroke-width="0.5"/>
<line x1="13.20" y1="172.50" x2="13.20" y2="200.50" stroke="#999" stroke-width="0.6"/>
<line x1="13.20" y1="200.50" x2="41.50" y2="200.50" stroke="#bdbdbd" stroke-width="0.5"/>
<line x1="21.60" y1="171.70" x2="21.60" y2="200.50" stroke="#858585" stroke-width="0.6"/>
<line x1="13.20" y1="189.50" x2="41.50" y2="189.50" stroke="#858585" stroke-width="0.6"/>
<line x1="13.70" y1="200.50" x2="13.70" y2="201.70" stroke="#bbb" stroke-width="0.5"/>
<line x1="12.00" y1="173.50" x2="13.20" y2="173.50" stroke="#bbb" stroke-width="0.5"/>
<line x1="20.60" y1="200.50" x2="20.60" y2="201.70" stroke="#bbb" stroke-width="0.5"/>
<line x1="12.00" y1="180.10" x2="13.20" y2="180.10" stroke="#bbb" stroke-width="0.5"/>
<line x1="27.50" y1="200.50" x2="27.50" y2="201.70" stroke="#bbb" stroke-width="0.5"/>
<line x1="12.00" y1="186.70" x2="13.20" y2="186.70" stroke="#bbb" stroke-width="0.5"/>
<line x1="34.40" y1="200.50" x2="34.40" y2="201.70" stroke="#bbb" stroke-width="0.5"/>
<line x1="12.00" y1="193.30" x2="13.20" y2="193.30" stroke="#bbb" stroke-width="0.5"/>
<line x1="41.30" y1="200.50" x2="41.30" y2="201.70" stroke="#bbb" stroke-width="0.5"/>
<line x1="12.00" y1="199.90" x2="13.20" y2="199.90" stroke="#bbb" stroke-width="0.5"/>
<line x1="13.20" y1="171.30" x2="13.20" y2="172.50" stroke="#888" stroke-width="0.8"/>
<line x1="21.60" y1="171.10" x2="21.60" y2="172.50" stroke="#777" stroke-width="0.9"/>
<ellipse cx="18.00" cy="193.80" rx="4.4" ry="3.2" fill="#000" opacity="0.55" filter="url(#bl)"/>
<ellipse cx="18.00" cy="193.80" rx="2.4" ry="1.7" fill="#000" opacity="0.32" filter="url(#bl)"/>
<ellipse cx="23.20" cy="188.50" rx="4" ry="1.4" fill="#000" opacity="0.1" filter="url(#bl)" transform="rotate(-40 23.20 188.50)"/>
<ellipse cx="29.70" cy="185.50" rx="0.8" ry="0.8" fill="#000" opacity="0.12" filter="url(#bl)"/>
<path d="M19.5,189.1h0.6M20.2,194.4h0.6M18.3,186.6h0.6M16.4,191.5h0.6M20.9,195.5h0.6M17.9,195.4h0.6M15.5,194.0h0.6M18.2,195.5h0.6M17.7,193.4h0.6M17.4,191.8h0.6M27.3,195.4h0.6M23.9,189.1h0.6M20.9,196.3h0.6M25.9,197.8h0.6M21.2,190.2h0.6M14.4,194.6h0.6M20.1,190.7h0.6M16.4,192.6h0.6M18.3,194.8h0.6M16.8,190.0h0.6M23.2,198.7h0.6M17.6,196.9h0.6M19.9,195.8h0.6M20.0,191.5h0.6M20.4,196.9h0.6M14.3,199.8h0.6M26.7,199.3h0.6M26.3,196.1h0.6M16.6,192.0h0.6M14.6,194.2h0.6M17.9,195.8h0.6M27.5,193.7h0.6M20.8,195.2h0.6M19.1,193.2h0.6M17.5,191.3h0.6M18.7,193.7h0.6M19.3,191.2h0.6M18.2,193.9h0.6M20.5,190.6h0.6M19.8,196.8h0.6M20.5,192.7h0.6M15.9,193.1h0.6M21.0,198.5h0.6M17.3,191.8h0.6M19.6,194.4h0.6M14.2,191.6h0.6M17.6,195.8h0.6M20.1,190.1h0.6M18.5,194.9h0.6M17.5,190.7h0.6M17.8,192.8h0.6M19.4,191.2h0.6M22.6,188.7h0.6M17.3,193.8h0.6M22.0,192.0h0.6M20.3,192.1h0.6M21.1,199.1h0.6M16.3,195.1h0.6M14.1,196.8h0.6M23.1,193.9h0.6M22.8,197.1h0.6M21.4,188.2h0.6M15.2,198.1h0.6M25.9,196.1h0.6M22.7,192.8h0.6M17.2,193.7h0.6M20.9,193.4h0.6M18.8,195.1h0.6M18.0,199.4h0.6M19.8,194.1h0.6M17.1,191.9h0.6M23.6,194.3h0.6M17.4,192.4h0.6M22.5,190.3h0.6M20.1,194.2h0.6M17.6,195.3h0.6M16.1,194.7h0.6M21.3,197.0h0.6M17.9,192.0h0.6M22.5,187.4h0.6M14.7,195.8h0.6M20.7,190.7h0.6M18.6,191.1h0.6M18.2,196.5h0.6M21.1,187.5h0.6M21.2,188.4h0.6M22.8,195.0h0.6M27.4,191.9h0.6M18.0,197.0h0.6M15.3,191.7h0.6M16.4,193.6h0.6M20.3,194.0h0.6M25.1,192.8h0.6M23.5,192.1h0.6M19.7,190.7h0.6M18.5,193.5h0.6M16.9,192.8h0.6M17.2,192.6h0.6M16.7,193.0h0.6M15.6,193.6h0.6M19.8,193.4h0.6M16.9,196.0h0.6M20.2,195.3h0.6M20.6,193.3h0.6M17.7,195.6h0.6M16.7,193.6h0.6M18.9,194.4h0.6M17.4,195.4h0.6M17.6,195.0h0.6M20.4,194.9h0.6M19.7,191.9h0.6M18.9,191.1h0.6M25.9,188.9h0.6M19.9,191.8h0.6M20.1,189.8h0.6M23.0,189.9h0.6M24.8,189.2h0.6M21.1,191.8h0.6M30.4,185.6h0.6M33.6,182.8h0.6M24.6,193.0h0.6M22.3,188.9h0.6M19.2,192.6h0.6M15.6,195.9h0.6M32.1,183.3h0.6M35.3,177.0h0.6M21.0,192.1h0.6M30.9,181.1h0.6M26.3,182.6h0.6M27.6,182.4h0.6M31.4,182.2h0.6M37.4,179.9h0.6M22.3,185.0h0.6" stroke="#000" stroke-width="0.6" opacity="0.28" fill="none"/>
<rect x="77.50" y="172.50" width="28.30" height="28.00" fill="#fff" stroke="#d4d4d4" stroke-width="0.5"/>
<line x1="77.50" y1="172.50" x2="77.50" y2="200.50" stroke="#999" stroke-width="0.6"/>
<line x1="77.50" y1="200.50" x2="105.80" y2="200.50" stroke="#bdbdbd" stroke-width="0.5"/>
<line x1="85.90" y1="171.70" x2="85.90" y2="200.50" stroke="#858585" stroke-width="0.6"/>
<line x1="77.50" y1="189.50" x2="105.80" y2="189.50" stroke="#858585" stroke-width="0.6"/>
<line x1="78.00" y1="200.50" x2="78.00" y2="201.70" stroke="#bbb" stroke-width="0.5"/>
<line x1="76.30" y1="173.50" x2="77.50" y2="173.50" stroke="#bbb" stroke-width="0.5"/>
<line x1="84.90" y1="200.50" x2="84.90" y2="201.70" stroke="#bbb" stroke-width="0.5"/>
<line x1="76.30" y1="180.10" x2="77.50" y2="180.10" stroke="#bbb" stroke-width="0.5"/>
<line x1="91.80" y1="200.50" x2="91.80" y2="201.70" stroke="#bbb" stroke-width="0.5"/>
<line x1="76.30" y1="186.70" x2="77.50" y2="186.70" stroke="#bbb" stroke-width="0.5"/>
<line x1="98.70" y1="200.50" x2="98.70" y2="201.70" stroke="#bbb" stroke-width="0.5"/>
<line x1="76.30" y1="193.30" x2="77.50" y2="193.30" stroke="#bbb" stroke-width="0.5"/>
<line x1="105.60" y1="200.50" x2="105.60" y2="201.70" stroke="#bbb" stroke-width="0.5"/>
<line x1="76.30" y1="199.90" x2="77.50" y2="199.90" stroke="#bbb" stroke-width="0.5"/>
<line x1="77.50" y1="171.30" x2="77.50" y2="172.50" stroke="#888" stroke-width="0.8"/>
<line x1="85.90" y1="171.10" x2="85.90" y2="172.50" stroke="#777" stroke-width="0.9"/>
<ellipse cx="81.70" cy="192.70" rx="4.6" ry="3.2" fill="#000" opacity="0.62" filter="url(#bl)"/>
<ellipse cx="81.70" cy="192.70" rx="2.6" ry="1.8" fill="#000" opacity="0.45" filter="url(#bl)"/>
<ellipse cx="87.50" cy="188.50" rx="4" ry="1.4" fill="#000" opacity="0.14" filter="url(#bl)" transform="rotate(-40 87.50 188.50)"/>
<ellipse cx="93.40" cy="192.70" rx="0.9" ry="2.6" fill="#000" opacity="0.22" filter="url(#bl)"/>
<path d="M83.6,186.7h0.6M78.4,190.8h0.6M81.1,190.2h0.6M78.8,194.5h0.6M83.7,186.9h0.6M83.2,195.1h0.6M85.2,195.8h0.6M80.1,192.1h0.6M85.1,191.4h0.6M86.3,187.9h0.6M84.6,192.2h0.6M83.1,192.8h0.6M88.3,190.2h0.6M80.0,189.9h0.6M79.3,189.4h0.6M85.1,194.4h0.6M86.6,191.9h0.6M85.7,192.6h0.6M83.5,195.0h0.6M89.8,191.9h0.6M79.6,192.6h0.6M87.0,189.8h0.6M87.4,184.3h0.6M85.2,190.6h0.6M83.7,194.8h0.6M82.8,194.5h0.6M80.9,192.0h0.6M79.4,197.1h0.6M85.4,192.8h0.6M84.9,189.3h0.6M80.3,190.9h0.6M81.1,197.1h0.6M83.5,193.9h0.6M81.8,191.3h0.6M83.9,193.8h0.6M82.3,192.9h0.6M82.2,190.0h0.6M80.8,189.9h0.6M83.4,194.8h0.6M89.4,196.5h0.6M78.2,191.3h0.6M90.4,194.9h0.6M81.7,193.6h0.6M89.5,190.2h0.6M83.2,190.3h0.6M81.9,195.7h0.6M81.1,190.6h0.6M78.5,198.5h0.6M81.8,194.6h0.6M79.9,194.2h0.6M85.3,192.3h0.6M79.7,192.1h0.6M80.4,193.3h0.6M87.5,196.7h0.6M79.8,194.5h0.6M83.0,195.0h0.6M81.8,193.5h0.6M79.7,190.3h0.6M85.5,196.6h0.6M84.6,194.0h0.6M82.9,191.3h0.6M82.6,191.0h0.6M78.6,192.6h0.6M79.5,193.2h0.6M80.8,190.4h0.6M86.4,190.3h0.6M79.5,194.4h0.6M79.4,191.4h0.6M83.3,191.6h0.6M80.7,197.9h0.6M78.3,191.6h0.6M80.3,193.5h0.6M85.5,198.0h0.6M78.9,196.7h0.6M86.0,195.2h0.6M78.4,195.4h0.6M81.2,193.8h0.6M80.5,194.7h0.6M86.6,196.1h0.6M80.8,195.7h0.6M88.0,189.9h0.6M88.1,188.6h0.6M84.1,194.5h0.6M88.2,193.5h0.6M79.6,190.3h0.6M80.7,190.5h0.6M84.0,190.4h0.6M79.8,191.3h0.6M88.9,197.1h0.6M81.3,190.0h0.6M82.4,192.8h0.6M82.6,193.7h0.6M80.9,194.3h0.6M83.8,193.1h0.6M80.7,191.9h0.6M83.4,190.8h0.6M81.3,191.4h0.6M78.3,193.7h0.6M81.6,192.8h0.6M83.9,190.1h0.6M81.5,193.2h0.6M83.8,190.8h0.6M83.5,193.1h0.6M85.0,194.6h0.6M83.1,196.4h0.6M81.7,192.0h0.6M80.9,191.1h0.6M81.6,189.5h0.6M81.5,193.4h0.6M84.1,192.1h0.6M85.1,191.6h0.6M81.4,189.5h0.6M79.8,191.3h0.6M85.3,193.6h0.6M79.0,193.6h0.6M82.9,192.3h0.6M81.8,192.2h0.6M80.4,189.7h0.6M88.3,190.0h0.6M91.3,184.8h0.6M85.2,190.1h0.6M90.3,186.7h0.6M86.1,190.3h0.6M87.3,189.5h0.6M85.1,188.0h0.6M88.3,189.1h0.6M84.3,191.0h0.6M89.7,186.0h0.6M92.9,197.6h0.6M94.1,195.2h0.6M92.6,196.6h0.6M92.0,191.5h0.6M94.0,195.9h0.6M92.6,191.1h0.6M93.6,188.1h0.6M82.3,195.5h0.6M86.3,192.4h0.6M83.7,189.7h0.6M81.6,195.7h0.6M88.2,189.7h0.6M84.4,195.1h0.6M80.9,188.0h0.6M93.7,187.0h0.6M90.2,190.2h0.6M83.4,193.8h0.6M96.0,182.9h0.6M85.6,192.2h0.6M81.7,190.8h0.6M87.7,193.1h0.6" stroke="#000" stroke-width="0.6" opacity="0.28" fill="none"/>
<rect x="117.40" y="172.50" width="28.30" height="28.00" fill="#fff" stroke="#d4d4d4" stroke-width="0.5"/>
<line x1="117.40" y1="172.50" x2="117.40" y2="200.50" stroke="#999" stroke-width="0.6"/>
<line x1="117.40" y1="200.50" x2="145.70" y2="200.50" stroke="#bdbdbd" stroke-width="0.5"/>
<line x1="125.80" y1="171.70" x2="125.80" y2="200.50" stroke="#858585" stroke-width="0.6"/>
<line x1="117.40" y1="189.50" x2="145.70" y2="189.50" stroke="#858585" stroke-width="0.6"/>
<line x1="117.90" y1="200.50" x2="117.90" y2="201.70" stroke="#bbb" stroke-width="0.5"/>
<line x1="116.20" y1="173.50" x2="117.40" y2="173.50" stroke="#bbb" stroke-width="0.5"/>
<line x1="124.80" y1="200.50" x2="124.80" y2="201.70" stroke="#bbb" stroke-width="0.5"/>
<line x1="116.20" y1="180.10" x2="117.40" y2="180.10" stroke="#bbb" stroke-width="0.5"/>
<line x1="131.70" y1="200.50" x2="131.70" y2="201.70" stroke="#bbb" stroke-width="0.5"/>
<line x1="116.20" y1="186.70" x2="117.40" y2="186.70" stroke="#bbb" stroke-width="0.5"/>
<line x1="138.60" y1="200.50" x2="138.60" y2="201.70" stroke="#bbb" stroke-width="0.5"/>
<line x1="116.20" y1="193.30" x2="117.40" y2="193.30" stroke="#bbb" stroke-width="0.5"/>
<line x1="145.50" y1="200.50" x2="145.50" y2="201.70" stroke="#bbb" stroke-width="0.5"/>
<line x1="116.20" y1="199.90" x2="117.40" y2="199.90" stroke="#bbb" stroke-width="0.5"/>
<line x1="117.40" y1="171.30" x2="117.40" y2="172.50" stroke="#888" stroke-width="0.8"/>
<line x1="125.80" y1="171.10" x2="125.80" y2="172.50" stroke="#777" stroke-width="0.9"/>
<ellipse cx="121.60" cy="191.70" rx="4.4" ry="3.5" fill="#000" opacity="0.58" filter="url(#bl)"/>
<ellipse cx="121.60" cy="191.70" rx="2.4" ry="2" fill="#000" opacity="0.45" filter="url(#bl)"/>
<ellipse cx="133.10" cy="192.70" rx="1.2" ry="3.0" fill="#000" opacity="0.62" filter="url(#bl)"/>
<ellipse cx="126.40" cy="188.50" rx="3" ry="1.2" fill="#000" opacity="0.1" filter="url(#bl)" transform="rotate(-40 126.40 188.50)"/>
<path d="M127.0,185.4h0.6M125.2,196.8h0.6M124.9,186.9h0.6M120.4,193.6h0.6M123.3,189.1h0.6M118.0,194.8h0.6M121.7,192.7h0.6M124.4,187.0h0.6M129.9,187.2h0.6M123.5,194.0h0.6M120.1,191.0h0.6M120.7,189.9h0.6M122.6,192.2h0.6M119.1,192.5h0.6M121.5,191.5h0.6M126.0,186.2h0.6M122.6,188.3h0.6M120.3,196.5h0.6M119.2,194.7h0.6M123.7,190.6h0.6M120.3,195.2h0.6M118.0,190.5h0.6M122.2,193.0h0.6M119.5,195.0h0.6M130.6,190.4h0.6M129.1,185.0h0.6M127.2,190.6h0.6M122.2,190.6h0.6M119.0,187.6h0.6M120.0,195.8h0.6M126.2,190.6h0.6M119.5,189.5h0.6M124.3,192.1h0.6M119.6,188.4h0.6M126.9,194.2h0.6M123.6,193.1h0.6M125.7,189.0h0.6M127.9,196.0h0.6M121.6,193.2h0.6M118.5,191.2h0.6M122.4,196.0h0.6M125.4,194.3h0.6M120.1,191.0h0.6M120.2,192.4h0.6M121.7,190.1h0.6M128.3,191.4h0.6M127.9,195.4h0.6M119.6,193.0h0.6M126.8,190.6h0.6M122.0,189.9h0.6M121.8,190.6h0.6M121.9,194.9h0.6M127.2,192.1h0.6M122.4,194.4h0.6M120.4,188.3h0.6M126.1,188.7h0.6M125.3,188.6h0.6M128.9,188.4h0.6M125.0,196.5h0.6M118.3,186.1h0.6M124.5,193.9h0.6M120.8,183.6h0.6M121.4,190.7h0.6M120.1,190.8h0.6M128.8,196.6h0.6M120.1,189.4h0.6M123.2,195.1h0.6M124.5,188.0h0.6M122.3,192.1h0.6M127.4,195.5h0.6M123.7,195.6h0.6M120.0,196.6h0.6M119.9,193.0h0.6M125.3,188.8h0.6M118.8,186.1h0.6M122.3,191.5h0.6M120.3,193.3h0.6M122.0,190.9h0.6M124.8,197.3h0.6M119.8,188.7h0.6M119.2,192.0h0.6M124.0,189.0h0.6M125.6,188.4h0.6M124.9,193.1h0.6M123.5,198.6h0.6M120.5,191.2h0.6M123.5,194.5h0.6M118.6,193.7h0.6M127.1,191.9h0.6M121.2,192.3h0.6M123.9,192.2h0.6M120.0,189.4h0.6M120.9,195.6h0.6M121.2,196.0h0.6M122.7,191.7h0.6M126.6,187.6h0.6M119.4,193.8h0.6M124.0,185.2h0.6M127.5,189.8h0.6M119.2,197.0h0.6M121.3,187.7h0.6M119.0,189.4h0.6M125.1,192.8h0.6M118.6,196.8h0.6M119.4,191.9h0.6M121.7,193.1h0.6M120.9,192.5h0.6M126.2,191.9h0.6M119.2,192.3h0.6M119.8,191.0h0.6M122.0,192.3h0.6M121.0,193.2h0.6M121.2,189.3h0.6M123.5,191.0h0.6M124.3,190.5h0.6M122.9,192.3h0.6M119.1,194.3h0.6M124.0,192.6h0.6M123.1,190.8h0.6M121.6,192.1h0.6M122.5,193.0h0.6M121.1,190.4h0.6M120.4,192.4h0.6M120.7,190.7h0.6M121.0,186.8h0.6M120.9,191.2h0.6M123.3,188.1h0.6M120.9,192.6h0.6M122.7,193.9h0.6M123.9,189.8h0.6M133.8,191.8h0.6M132.2,196.9h0.6M132.4,190.4h0.6M132.7,190.4h0.6M134.2,193.7h0.6M134.6,193.8h0.6M132.4,195.6h0.6M132.4,191.4h0.6M132.9,192.8h0.6M134.4,191.0h0.6M133.5,192.6h0.6M131.7,189.7h0.6M132.9,193.8h0.6M133.5,194.0h0.6M133.2,191.5h0.6M133.6,189.9h0.6M131.6,191.8h0.6M131.5,191.3h0.6M132.3,191.2h0.6M133.1,190.5h0.6M132.6,188.0h0.6M133.3,190.3h0.6M133.5,184.9h0.6M132.2,193.4h0.6M130.4,191.7h0.6M133.2,193.0h0.6M131.5,193.3h0.6M133.3,190.0h0.6M133.9,192.6h0.6M133.1,191.5h0.6M133.7,193.0h0.6M129.1,186.9h0.6M124.9,189.4h0.6M128.1,186.6h0.6M127.6,188.3h0.6M124.4,186.9h0.6M127.4,193.3h0.6M127.8,190.8h0.6M130.9,187.3h0.6M127.5,191.5h0.6M122.5,192.8h0.6M129.7,186.4h0.6M119.5,193.5h0.6M141.7,177.9h0.6M124.9,193.2h0.6M129.2,189.2h0.6M134.4,180.4h0.6M140.9,180.4h0.6M126.4,189.3h0.6M125.8,186.6h0.6" stroke="#000" stroke-width="0.6" opacity="0.28" fill="none"/>
<rect x="155.40" y="172.50" width="28.30" height="28.00" fill="#fff" stroke="#d4d4d4" stroke-width="0.5"/>
<line x1="155.40" y1="172.50" x2="155.40" y2="200.50" stroke="#999" stroke-width="0.6"/>
<line x1="155.40" y1="200.50" x2="183.70" y2="200.50" stroke="#bdbdbd" stroke-width="0.5"/>
<line x1="163.80" y1="171.70" x2="163.80" y2="200.50" stroke="#858585" stroke-width="0.6"/>
<line x1="155.40" y1="189.50" x2="183.70" y2="189.50" stroke="#858585" stroke-width="0.6"/>
<line x1="155.90" y1="200.50" x2="155.90" y2="201.70" stroke="#bbb" stroke-width="0.5"/>
<line x1="154.20" y1="173.50" x2="155.40" y2="173.50" stroke="#bbb" stroke-width="0.5"/>
<line x1="162.80" y1="200.50" x2="162.80" y2="201.70" stroke="#bbb" stroke-width="0.5"/>
<line x1="154.20" y1="180.10" x2="155.40" y2="180.10" stroke="#bbb" stroke-width="0.5"/>
<line x1="169.70" y1="200.50" x2="169.70" y2="201.70" stroke="#bbb" stroke-width="0.5"/>
<line x1="154.20" y1="186.70" x2="155.40" y2="186.70" stroke="#bbb" stroke-width="0.5"/>
<line x1="176.60" y1="200.50" x2="176.60" y2="201.70" stroke="#bbb" stroke-width="0.5"/>
<line x1="154.20" y1="193.30" x2="155.40" y2="193.30" stroke="#bbb" stroke-width="0.5"/>
<line x1="183.50" y1="200.50" x2="183.50" y2="201.70" stroke="#bbb" stroke-width="0.5"/>
<line x1="154.20" y1="199.90" x2="155.40" y2="199.90" stroke="#bbb" stroke-width="0.5"/>
<line x1="155.40" y1="171.30" x2="155.40" y2="172.50" stroke="#888" stroke-width="0.8"/>
<line x1="163.80" y1="171.10" x2="163.80" y2="172.50" stroke="#777" stroke-width="0.9"/>
<ellipse cx="160.10" cy="192.20" rx="4.4" ry="3.2" fill="#000" opacity="0.6" filter="url(#bl)"/>
<ellipse cx="160.10" cy="192.20" rx="2.4" ry="1.8" fill="#000" opacity="0.45" filter="url(#bl)"/>
<ellipse cx="165.40" cy="187.50" rx="4.5" ry="1.4" fill="#000" opacity="0.2" filter="url(#bl)" transform="rotate(-42 165.40 187.50)"/>
<path d="M159.3,194.9h0.6M163.4,196.1h0.6M156.3,190.3h0.6M162.3,198.3h0.6M161.8,190.7h0.6M169.0,184.8h0.6M159.8,192.8h0.6M168.7,197.5h0.6M169.3,192.6h0.6M164.1,196.2h0.6M162.2,193.3h0.6M159.4,191.0h0.6M158.3,186.1h0.6M161.2,192.1h0.6M160.8,197.6h0.6M159.7,191.4h0.6M157.1,192.1h0.6M158.3,192.8h0.6M172.8,193.4h0.6M156.6,197.9h0.6M163.6,194.6h0.6M163.0,194.6h0.6M162.8,196.4h0.6M164.2,196.2h0.6M158.1,192.2h0.6M157.1,195.0h0.6M163.5,190.8h0.6M165.1,188.9h0.6M159.7,194.1h0.6M160.0,193.3h0.6M164.9,193.2h0.6M159.7,192.5h0.6M157.8,188.1h0.6M164.8,188.8h0.6M157.1,193.8h0.6M157.0,194.2h0.6M158.1,193.1h0.6M160.5,192.2h0.6M159.9,196.4h0.6M157.9,193.8h0.6M160.8,193.6h0.6M164.1,187.8h0.6M161.2,191.7h0.6M158.8,189.7h0.6M156.9,189.2h0.6M167.0,192.2h0.6M163.1,189.3h0.6M160.7,196.5h0.6M159.9,189.2h0.6M159.1,189.2h0.6M158.5,189.8h0.6M156.5,189.4h0.6M161.1,196.3h0.6M159.2,198.8h0.6M160.5,193.9h0.6M164.7,190.6h0.6M161.3,190.1h0.6M163.7,197.2h0.6M164.2,186.5h0.6M160.9,191.5h0.6M161.0,190.8h0.6M161.9,194.1h0.6M163.2,193.9h0.6M161.8,188.7h0.6M158.4,192.6h0.6M158.6,189.1h0.6M160.2,190.5h0.6M158.4,189.6h0.6M157.0,191.9h0.6M157.5,194.2h0.6M159.5,192.6h0.6M161.8,196.0h0.6M162.6,192.9h0.6M159.4,189.8h0.6M158.7,194.2h0.6M161.0,191.1h0.6M161.4,195.2h0.6M161.6,188.1h0.6M159.2,192.9h0.6M156.4,193.2h0.6M159.3,189.7h0.6M161.6,189.6h0.6M162.5,191.3h0.6M166.6,191.3h0.6M159.3,193.2h0.6M160.3,189.2h0.6M165.8,189.2h0.6M165.6,192.9h0.6M162.4,189.5h0.6M158.3,189.7h0.6M159.6,192.5h0.6M158.9,190.2h0.6M160.6,189.3h0.6M161.3,193.0h0.6M163.8,193.7h0.6M160.9,192.6h0.6M160.2,190.0h0.6M163.3,193.1h0.6M159.5,190.3h0.6M163.4,193.1h0.6M157.5,193.3h0.6M164.3,192.2h0.6M161.0,191.5h0.6M158.7,194.0h0.6M166.9,192.4h0.6M159.8,193.5h0.6M159.4,193.4h0.6M161.9,190.5h0.6M157.7,192.1h0.6M161.9,192.7h0.6M162.8,189.9h0.6M161.2,191.2h0.6M160.3,192.7h0.6M158.0,191.8h0.6M157.5,192.6h0.6M158.2,191.4h0.6M165.5,186.3h0.6M168.4,183.7h0.6M168.3,185.4h0.6M162.0,190.2h0.6M162.5,189.5h0.6M166.1,190.0h0.6M165.5,190.2h0.6M165.6,185.0h0.6M158.9,194.6h0.6M159.9,193.7h0.6M168.9,185.0h0.6M164.5,187.8h0.6M165.9,186.5h0.6M163.4,188.6h0.6M168.5,183.7h0.6M165.6,185.3h0.6M162.0,188.2h0.6M165.3,194.3h0.6M162.6,192.1h0.6M163.6,195.9h0.6M174.6,180.0h0.6M166.3,189.0h0.6M164.7,193.9h0.6M160.2,193.2h0.6M161.4,190.4h0.6M172.4,189.4h0.6M165.6,188.6h0.6M176.6,180.8h0.6M156.8,197.1h0.6M161.9,191.2h0.6M167.4,184.8h0.6" stroke="#000" stroke-width="0.6" opacity="0.28" fill="none"/>
<rect x="13.20" y="205.20" width="28.30" height="28.00" fill="#fff" stroke="#d4d4d4" stroke-width="0.5"/>
<line x1="13.20" y1="205.20" x2="13.20" y2="233.20" stroke="#999" stroke-width="0.6"/>
<line x1="13.20" y1="233.20" x2="41.50" y2="233.20" stroke="#bdbdbd" stroke-width="0.5"/>
<line x1="21.20" y1="204.40" x2="21.20" y2="233.20" stroke="#858585" stroke-width="0.6"/>
<line x1="13.20" y1="224.70" x2="41.50" y2="224.70" stroke="#858585" stroke-width="0.6"/>
<line x1="13.70" y1="233.20" x2="13.70" y2="234.40" stroke="#bbb" stroke-width="0.5"/>
<line x1="12.00" y1="206.20" x2="13.20" y2="206.20" stroke="#bbb" stroke-width="0.5"/>
<line x1="20.60" y1="233.20" x2="20.60" y2="234.40" stroke="#bbb" stroke-width="0.5"/>
<line x1="12.00" y1="212.80" x2="13.20" y2="212.80" stroke="#bbb" stroke-width="0.5"/>
<line x1="27.50" y1="233.20" x2="27.50" y2="234.40" stroke="#bbb" stroke-width="0.5"/>
<line x1="12.00" y1="219.40" x2="13.20" y2="219.40" stroke="#bbb" stroke-width="0.5"/>
<line x1="34.40" y1="233.20" x2="34.40" y2="234.40" stroke="#bbb" stroke-width="0.5"/>
<line x1="12.00" y1="226.00" x2="13.20" y2="226.00" stroke="#bbb" stroke-width="0.5"/>
<line x1="41.30" y1="233.20" x2="41.30" y2="234.40" stroke="#bbb" stroke-width="0.5"/>
<line x1="12.00" y1="232.60" x2="13.20" y2="232.60" stroke="#bbb" stroke-width="0.5"/>
<line x1="13.20" y1="204.00" x2="13.20" y2="205.20" stroke="#888" stroke-width="0.8"/>
<line x1="21.20" y1="203.80" x2="21.20" y2="205.20" stroke="#777" stroke-width="0.9"/>
<ellipse cx="17.80" cy="228.50" rx="4.4" ry="3.3" fill="#000" opacity="0.54" filter="url(#bl)"/>
<ellipse cx="17.80" cy="228.50" rx="2.4" ry="1.8" fill="#000" opacity="0.32" filter="url(#bl)"/>
<ellipse cx="23.20" cy="223.20" rx="3.5" ry="1.2" fill="#000" opacity="0.1" filter="url(#bl)" transform="rotate(-40 23.20 223.20)"/>
<ellipse cx="29.20" cy="217.20" rx="0.7" ry="0.9" fill="#000" opacity="0.12" filter="url(#bl)"/>
<path d="M16.9,227.1h0.6M18.8,227.1h0.6M30.1,223.7h0.6M22.5,227.1h0.6M16.8,231.3h0.6M17.8,224.8h0.6M19.5,227.9h0.6M19.7,229.4h0.6M19.5,226.6h0.6M18.8,228.1h0.6M17.1,227.7h0.6M15.5,231.5h0.6M17.3,229.6h0.6M16.1,228.0h0.6M14.0,226.5h0.6M22.7,229.3h0.6M22.7,231.1h0.6M21.5,231.5h0.6M15.4,230.9h0.6M16.5,226.9h0.6M21.1,225.9h0.6M18.9,229.6h0.6M19.3,227.4h0.6M21.3,230.9h0.6M20.5,231.8h0.6M13.8,228.4h0.6M19.2,231.5h0.6M18.4,230.1h0.6M27.8,229.2h0.6M19.7,230.5h0.6M21.9,229.1h0.6M14.3,228.2h0.6M19.2,227.7h0.6M15.1,227.4h0.6M17.4,227.4h0.6M19.0,228.4h0.6M19.3,225.9h0.6M19.5,225.3h0.6M18.3,228.3h0.6M21.8,227.3h0.6M16.3,229.2h0.6M16.8,226.9h0.6M16.5,229.9h0.6M18.7,230.6h0.6M25.2,228.4h0.6M19.5,221.8h0.6M17.9,224.0h0.6M22.0,224.0h0.6M23.4,231.2h0.6M16.3,230.0h0.6M23.9,227.5h0.6M17.7,226.8h0.6M22.5,222.0h0.6M23.5,225.6h0.6M21.5,223.6h0.6M14.0,226.7h0.6M21.1,223.6h0.6M20.2,226.6h0.6M22.8,227.6h0.6M19.8,228.0h0.6M25.0,227.4h0.6M18.1,230.6h0.6M14.8,229.1h0.6M15.2,224.0h0.6M19.5,223.9h0.6M25.1,226.4h0.6M16.3,229.2h0.6M14.8,232.1h0.6M21.6,223.7h0.6M22.6,228.6h0.6M19.8,228.7h0.6M19.5,225.5h0.6M14.1,226.4h0.6M16.3,230.4h0.6M15.3,226.7h0.6M20.6,229.8h0.6M16.4,225.3h0.6M22.4,231.8h0.6M25.3,230.0h0.6M19.1,230.8h0.6M19.9,228.1h0.6M18.6,232.0h0.6M14.1,226.2h0.6M15.7,229.7h0.6M20.4,227.9h0.6M19.3,228.4h0.6M18.5,227.6h0.6M17.7,228.5h0.6M20.3,232.2h0.6M13.8,229.4h0.6M17.8,230.1h0.6M20.1,229.8h0.6M19.6,226.9h0.6M14.1,231.2h0.6M20.5,226.9h0.6M20.6,229.6h0.6M15.6,230.4h0.6M16.3,227.3h0.6M19.3,226.2h0.6M25.2,220.5h0.6M20.1,228.8h0.6M28.2,220.0h0.6M21.0,223.3h0.6M28.2,217.7h0.6M33.5,208.5h0.6M16.4,228.6h0.6M36.2,210.3h0.6M27.3,217.3h0.6M24.0,218.0h0.6M22.0,221.3h0.6M21.7,221.3h0.6M30.3,213.4h0.6M27.2,220.6h0.6M29.8,217.1h0.6M29.5,214.4h0.6M24.8,224.0h0.6M35.6,215.5h0.6M19.3,225.8h0.6" stroke="#000" stroke-width="0.6" opacity="0.28" fill="none"/>
<rect x="77.50" y="205.20" width="28.30" height="28.00" fill="#fff" stroke="#d4d4d4" stroke-width="0.5"/>
<line x1="77.50" y1="205.20" x2="77.50" y2="233.20" stroke="#999" stroke-width="0.6"/>
<line x1="77.50" y1="233.20" x2="105.80" y2="233.20" stroke="#bdbdbd" stroke-width="0.5"/>
<line x1="85.50" y1="204.40" x2="85.50" y2="233.20" stroke="#858585" stroke-width="0.6"/>
<line x1="77.50" y1="224.70" x2="105.80" y2="224.70" stroke="#858585" stroke-width="0.6"/>
<line x1="78.00" y1="233.20" x2="78.00" y2="234.40" stroke="#bbb" stroke-width="0.5"/>
<line x1="76.30" y1="206.20" x2="77.50" y2="206.20" stroke="#bbb" stroke-width="0.5"/>
<line x1="84.90" y1="233.20" x2="84.90" y2="234.40" stroke="#bbb" stroke-width="0.5"/>
<line x1="76.30" y1="212.80" x2="77.50" y2="212.80" stroke="#bbb" stroke-width="0.5"/>
<line x1="91.80" y1="233.20" x2="91.80" y2="234.40" stroke="#bbb" stroke-width="0.5"/>
<line x1="76.30" y1="219.40" x2="77.50" y2="219.40" stroke="#bbb" stroke-width="0.5"/>
<line x1="98.70" y1="233.20" x2="98.70" y2="234.40" stroke="#bbb" stroke-width="0.5"/>
<line x1="76.30" y1="226.00" x2="77.50" y2="226.00" stroke="#bbb" stroke-width="0.5"/>
<line x1="105.60" y1="233.20" x2="105.60" y2="234.40" stroke="#bbb" stroke-width="0.5"/>
<line x1="76.30" y1="232.60" x2="77.50" y2="232.60" stroke="#bbb" stroke-width="0.5"/>
<line x1="77.50" y1="204.00" x2="77.50" y2="205.20" stroke="#888" stroke-width="0.8"/>
<line x1="85.50" y1="203.80" x2="85.50" y2="205.20" stroke="#777" stroke-width="0.9"/>
<ellipse cx="82.70" cy="228.20" rx="5.3" ry="3.7" fill="#000" opacity="0.55" filter="url(#bl)"/>
<ellipse cx="82.30" cy="228.20" rx="2.8" ry="2.0" fill="#000" opacity="0.45" filter="url(#bl)"/>
<ellipse cx="81.20" cy="216.80" rx="3.2" ry="1.1" fill="#000" opacity="0.9" filter="url(#bl2)"/>
<ellipse cx="88.50" cy="222.70" rx="5" ry="1.3" fill="#000" opacity="0.2" filter="url(#bl)" transform="rotate(-38 88.50 222.70)"/>
<path d="M81.2,231.5h0.6M95.3,226.3h0.6M84.4,231.0h0.6M85.8,227.4h0.6M80.4,231.6h0.6M85.7,229.9h0.6M78.8,230.3h0.6M86.6,227.6h0.6M81.6,230.1h0.6M83.0,224.2h0.6M82.8,225.4h0.6M78.6,227.7h0.6M80.0,226.2h0.6M82.9,227.2h0.6M85.7,224.2h0.6M82.3,230.8h0.6M88.4,230.1h0.6M82.9,222.9h0.6M86.0,230.1h0.6M83.5,224.7h0.6M90.4,226.1h0.6M80.0,231.1h0.6M84.3,225.1h0.6M85.8,230.6h0.6M87.5,229.7h0.6M79.4,224.2h0.6M85.0,221.7h0.6M87.1,232.5h0.6M82.9,224.1h0.6M91.4,223.7h0.6M82.3,221.7h0.6M88.0,232.2h0.6M80.7,223.6h0.6M82.4,229.5h0.6M82.2,230.6h0.6M83.1,229.7h0.6M84.2,225.1h0.6M82.1,226.9h0.6M85.1,225.6h0.6M89.8,228.3h0.6M85.3,230.4h0.6M87.8,229.6h0.6M91.8,229.8h0.6M85.5,229.8h0.6M79.5,225.9h0.6M79.5,232.2h0.6M85.0,224.1h0.6M91.3,229.4h0.6M88.6,228.9h0.6M81.1,228.8h0.6M78.3,226.4h0.6M91.8,228.0h0.6M87.1,227.4h0.6M84.6,228.1h0.6M80.0,228.5h0.6M81.3,224.5h0.6M80.9,230.1h0.6M79.3,229.8h0.6M84.0,230.8h0.6M90.9,227.2h0.6M93.4,225.7h0.6M81.3,222.7h0.6M85.9,229.1h0.6M92.7,228.8h0.6M81.5,223.3h0.6M82.3,231.5h0.6M86.4,232.5h0.6M87.0,228.0h0.6M85.7,228.8h0.6M84.6,224.6h0.6M84.6,229.2h0.6M90.3,224.9h0.6M84.4,229.4h0.6M83.7,230.8h0.6M93.6,229.2h0.6M79.7,220.0h0.6M88.1,227.7h0.6M82.2,224.8h0.6M86.4,222.0h0.6M83.2,228.6h0.6M82.2,228.5h0.6M87.0,222.8h0.6M81.2,228.4h0.6M87.5,225.4h0.6M86.7,229.5h0.6M83.7,230.7h0.6M86.8,226.3h0.6M88.0,231.1h0.6M85.1,229.9h0.6M81.0,228.7h0.6M82.4,227.0h0.6M79.0,223.3h0.6M80.7,224.5h0.6M81.2,227.5h0.6M83.4,231.7h0.6M84.9,221.8h0.6M84.9,228.6h0.6M91.7,227.3h0.6M84.2,228.5h0.6M89.2,226.1h0.6M86.1,226.9h0.6M83.3,228.8h0.6M82.8,226.6h0.6M90.5,227.3h0.6M84.2,231.4h0.6M84.0,230.1h0.6M86.0,230.3h0.6M86.9,225.5h0.6M87.5,228.3h0.6M78.6,228.2h0.6M78.3,226.3h0.6M83.1,228.5h0.6M80.2,227.8h0.6M82.0,228.3h0.6M82.3,227.8h0.6M84.6,225.2h0.6M81.0,228.5h0.6M81.2,227.2h0.6M81.1,228.6h0.6M85.6,227.8h0.6M81.6,228.9h0.6M81.7,224.5h0.6M83.0,227.5h0.6M80.8,229.4h0.6M82.4,227.1h0.6M82.3,228.0h0.6M83.5,228.6h0.6M81.0,225.8h0.6M79.4,227.9h0.6M79.2,229.6h0.6M78.8,224.8h0.6M81.8,224.8h0.6M86.6,226.3h0.6M82.2,227.7h0.6M80.1,224.8h0.6M85.0,232.3h0.6M83.5,227.5h0.6M89.1,223.6h0.6M87.1,224.9h0.6M92.3,220.7h0.6M93.8,218.3h0.6M93.7,217.5h0.6M92.7,215.2h0.6M87.9,221.9h0.6M89.3,223.7h0.6M91.3,220.7h0.6M93.7,216.3h0.6M86.6,226.6h0.6M88.2,219.7h0.6M88.9,220.6h0.6M94.9,219.5h0.6M87.4,225.6h0.6M86.1,226.0h0.6M90.6,220.9h0.6M89.5,216.4h0.6M95.2,214.0h0.6M95.2,215.6h0.6M83.6,229.0h0.6M80.5,231.4h0.6M101.3,212.5h0.6M92.9,212.4h0.6M95.6,216.3h0.6M80.5,226.3h0.6M88.8,222.8h0.6M90.7,215.1h0.6M94.1,216.4h0.6M83.9,227.2h0.6M85.3,227.3h0.6" stroke="#000" stroke-width="0.6" opacity="0.28" fill="none"/>
<rect x="117.40" y="205.20" width="28.30" height="28.00" fill="#fff" stroke="#d4d4d4" stroke-width="0.5"/>
<line x1="117.40" y1="205.20" x2="117.40" y2="233.20" stroke="#999" stroke-width="0.6"/>
<line x1="117.40" y1="233.20" x2="145.70" y2="233.20" stroke="#bdbdbd" stroke-width="0.5"/>
<line x1="125.40" y1="204.40" x2="125.40" y2="233.20" stroke="#858585" stroke-width="0.6"/>
<line x1="117.40" y1="224.70" x2="145.70" y2="224.70" stroke="#858585" stroke-width="0.6"/>
<line x1="117.90" y1="233.20" x2="117.90" y2="234.40" stroke="#bbb" stroke-width="0.5"/>
<line x1="116.20" y1="206.20" x2="117.40" y2="206.20" stroke="#bbb" stroke-width="0.5"/>
<line x1="124.80" y1="233.20" x2="124.80" y2="234.40" stroke="#bbb" stroke-width="0.5"/>
<line x1="116.20" y1="212.80" x2="117.40" y2="212.80" stroke="#bbb" stroke-width="0.5"/>
<line x1="131.70" y1="233.20" x2="131.70" y2="234.40" stroke="#bbb" stroke-width="0.5"/>
<line x1="116.20" y1="219.40" x2="117.40" y2="219.40" stroke="#bbb" stroke-width="0.5"/>
<line x1="138.60" y1="233.20" x2="138.60" y2="234.40" stroke="#bbb" stroke-width="0.5"/>
<line x1="116.20" y1="226.00" x2="117.40" y2="226.00" stroke="#bbb" stroke-width="0.5"/>
<line x1="145.50" y1="233.20" x2="145.50" y2="234.40" stroke="#bbb" stroke-width="0.5"/>
<line x1="116.20" y1="232.60" x2="117.40" y2="232.60" stroke="#bbb" stroke-width="0.5"/>
<line x1="117.40" y1="204.00" x2="117.40" y2="205.20" stroke="#888" stroke-width="0.8"/>
<line x1="125.40" y1="203.80" x2="125.40" y2="205.20" stroke="#777" stroke-width="0.9"/>
<ellipse cx="122.40" cy="228.20" rx="5.0" ry="3.7" fill="#000" opacity="0.55" filter="url(#bl)"/>
<ellipse cx="122.00" cy="228.20" rx="2.7" ry="2.0" fill="#000" opacity="0.45" filter="url(#bl)"/>
<ellipse cx="122.00" cy="216.30" rx="3.8" ry="1.2" fill="#000" opacity="0.92" filter="url(#bl2)"/>
<ellipse cx="127.40" cy="223.70" rx="4" ry="1.2" fill="#000" opacity="0.12" filter="url(#bl)" transform="rotate(-38 127.40 223.70)"/>
<path d="M129.5,227.2h0.6M123.4,229.7h0.6M120.8,231.6h0.6M120.5,224.7h0.6M122.1,226.6h0.6M126.4,226.9h0.6M123.0,227.4h0.6M124.0,226.0h0.6M127.6,223.2h0.6M120.6,225.7h0.6M125.5,228.3h0.6M124.7,227.0h0.6M119.0,224.3h0.6M120.8,226.3h0.6M123.7,229.4h0.6M127.0,227.8h0.6M118.8,224.5h0.6M122.7,229.5h0.6M131.7,228.8h0.6M122.4,231.6h0.6M120.1,228.0h0.6M121.4,231.6h0.6M122.7,225.7h0.6M123.6,230.5h0.6M119.0,230.4h0.6M119.0,225.1h0.6M123.4,227.4h0.6M122.5,229.1h0.6M120.2,228.9h0.6M124.4,229.2h0.6M119.5,228.5h0.6M123.0,232.0h0.6M123.7,229.1h0.6M119.0,231.2h0.6M128.0,226.5h0.6M125.4,229.3h0.6M122.2,223.7h0.6M130.7,221.6h0.6M123.8,226.9h0.6M127.8,226.7h0.6M122.6,230.3h0.6M124.6,226.4h0.6M125.6,229.6h0.6M127.1,226.4h0.6M122.2,226.8h0.6M118.4,229.1h0.6M120.9,229.6h0.6M127.8,227.8h0.6M122.7,228.7h0.6M119.1,224.7h0.6M127.7,228.8h0.6M122.0,223.8h0.6M123.0,232.3h0.6M129.7,226.3h0.6M125.2,225.6h0.6M124.9,226.9h0.6M124.0,227.4h0.6M122.7,229.1h0.6M120.0,228.9h0.6M133.9,228.9h0.6M123.0,232.2h0.6M120.0,226.5h0.6M124.0,226.2h0.6M127.6,228.2h0.6M120.3,231.4h0.6M118.5,232.6h0.6M126.9,228.7h0.6M128.9,228.2h0.6M122.1,232.1h0.6M124.7,230.2h0.6M123.9,229.7h0.6M123.6,227.4h0.6M122.7,230.3h0.6M126.0,227.5h0.6M126.9,226.9h0.6M132.4,230.7h0.6M123.1,228.6h0.6M121.4,231.0h0.6M131.8,226.7h0.6M127.4,223.0h0.6M119.2,224.7h0.6M125.0,230.0h0.6M119.0,224.3h0.6M125.6,221.1h0.6M125.4,227.7h0.6M131.4,231.6h0.6M119.7,227.2h0.6M121.1,225.7h0.6M122.8,231.5h0.6M129.4,230.8h0.6M118.6,225.4h0.6M118.4,222.6h0.6M127.8,228.4h0.6M119.1,223.2h0.6M120.6,226.4h0.6M130.5,226.6h0.6M122.9,231.9h0.6M125.5,227.6h0.6M125.2,226.7h0.6M122.0,224.9h0.6M118.2,223.1h0.6M124.7,230.0h0.6M123.2,230.9h0.6M124.9,228.6h0.6M118.3,230.2h0.6M127.9,230.4h0.6M128.2,226.6h0.6M119.7,229.0h0.6M121.5,228.3h0.6M121.1,226.3h0.6M123.3,221.6h0.6M118.2,224.3h0.6M118.9,219.4h0.6M123.4,231.3h0.6M121.4,229.6h0.6M123.5,225.9h0.6M125.1,225.1h0.6M120.6,227.5h0.6M125.2,228.4h0.6M121.7,226.7h0.6M122.2,228.3h0.6M123.8,230.8h0.6M123.9,228.2h0.6M121.6,231.2h0.6M122.5,228.2h0.6M126.5,231.1h0.6M123.4,228.0h0.6M120.4,230.2h0.6M120.9,230.0h0.6M120.0,228.4h0.6M123.0,228.5h0.6M122.6,228.9h0.6M119.2,226.1h0.6M121.6,231.6h0.6M121.7,226.5h0.6M120.3,228.3h0.6M125.0,227.1h0.6M123.4,228.5h0.6M121.1,226.4h0.6M121.6,226.9h0.6M123.3,224.9h0.6M124.8,229.6h0.6M123.5,231.0h0.6M123.5,225.0h0.6M122.1,229.0h0.6M120.3,226.1h0.6M123.1,229.1h0.6M126.0,224.5h0.6M125.5,224.4h0.6M128.0,224.8h0.6M122.5,227.1h0.6M132.3,220.3h0.6M128.4,224.1h0.6M123.6,224.9h0.6M121.6,226.2h0.6M123.3,227.5h0.6M126.5,224.8h0.6M137.5,211.2h0.6M140.1,209.1h0.6M126.6,221.8h0.6M133.2,217.6h0.6M133.6,223.1h0.6M136.5,212.8h0.6M120.1,225.9h0.6M127.1,219.0h0.6M136.6,214.8h0.6M126.5,221.4h0.6M134.1,218.1h0.6M129.1,215.9h0.6" stroke="#000" stroke-width="0.6" opacity="0.28" fill="none"/>
<rect x="155.40" y="205.20" width="28.30" height="28.00" fill="#fff" stroke="#d4d4d4" stroke-width="0.5"/>
<line x1="155.40" y1="205.20" x2="155.40" y2="233.20" stroke="#999" stroke-width="0.6"/>
<line x1="155.40" y1="233.20" x2="183.70" y2="233.20" stroke="#bdbdbd" stroke-width="0.5"/>
<line x1="163.40" y1="204.40" x2="163.40" y2="233.20" stroke="#858585" stroke-width="0.6"/>
<line x1="155.40" y1="224.70" x2="183.70" y2="224.70" stroke="#858585" stroke-width="0.6"/>
<line x1="155.90" y1="233.20" x2="155.90" y2="234.40" stroke="#bbb" stroke-width="0.5"/>
<line x1="154.20" y1="206.20" x2="155.40" y2="206.20" stroke="#bbb" stroke-width="0.5"/>
<line x1="162.80" y1="233.20" x2="162.80" y2="234.40" stroke="#bbb" stroke-width="0.5"/>
<line x1="154.20" y1="212.80" x2="155.40" y2="212.80" stroke="#bbb" stroke-width="0.5"/>
<line x1="169.70" y1="233.20" x2="169.70" y2="234.40" stroke="#bbb" stroke-width="0.5"/>
<line x1="154.20" y1="219.40" x2="155.40" y2="219.40" stroke="#bbb" stroke-width="0.5"/>
<line x1="176.60" y1="233.20" x2="176.60" y2="234.40" stroke="#bbb" stroke-width="0.5"/>
<line x1="154.20" y1="226.00" x2="155.40" y2="226.00" stroke="#bbb" stroke-width="0.5"/>
<line x1="183.50" y1="233.20" x2="183.50" y2="234.40" stroke="#bbb" stroke-width="0.5"/>
<line x1="154.20" y1="232.60" x2="155.40" y2="232.60" stroke="#bbb" stroke-width="0.5"/>
<line x1="155.40" y1="204.00" x2="155.40" y2="205.20" stroke="#888" stroke-width="0.8"/>
<line x1="163.40" y1="203.80" x2="163.40" y2="205.20" stroke="#777" stroke-width="0.9"/>
<ellipse cx="161.60" cy="228.00" rx="5.3" ry="3.5" fill="#000" opacity="0.55" filter="url(#bl)"/>
<ellipse cx="161.20" cy="228.00" rx="2.8" ry="1.9" fill="#000" opacity="0.45" filter="url(#bl)"/>
<ellipse cx="166.90" cy="223.20" rx="5" ry="1.4" fill="#000" opacity="0.22" filter="url(#bl)" transform="rotate(-38 166.90 223.20)"/>
<path d="M157.8,230.6h0.6M172.1,224.6h0.6M159.9,226.9h0.6M161.4,228.9h0.6M172.6,227.1h0.6M165.5,230.7h0.6M158.5,226.1h0.6M169.2,230.3h0.6M162.3,224.5h0.6M165.9,229.7h0.6M165.5,228.9h0.6M161.9,226.2h0.6M163.1,228.8h0.6M164.8,231.5h0.6M163.1,226.2h0.6M157.5,229.4h0.6M164.3,229.7h0.6M164.1,227.7h0.6M170.1,223.5h0.6M158.3,226.3h0.6M161.3,226.3h0.6M168.8,231.8h0.6M159.6,230.1h0.6M161.4,231.7h0.6M164.5,227.9h0.6M164.3,225.7h0.6M159.8,229.8h0.6M165.9,224.7h0.6M170.1,228.4h0.6M165.9,227.1h0.6M167.0,223.0h0.6M161.1,231.2h0.6M158.3,230.2h0.6M159.8,229.1h0.6M168.0,224.4h0.6M166.7,218.4h0.6M160.4,222.5h0.6M163.1,225.7h0.6M158.9,225.3h0.6M163.0,226.5h0.6M157.2,227.3h0.6M163.6,225.2h0.6M167.0,222.6h0.6M163.6,226.7h0.6M169.3,225.9h0.6M158.4,223.7h0.6M171.3,230.0h0.6M156.3,226.9h0.6M163.6,221.4h0.6M162.6,231.0h0.6M161.6,229.5h0.6M161.1,228.7h0.6M162.6,225.7h0.6M163.3,228.5h0.6M161.4,225.8h0.6M156.6,228.8h0.6M165.6,220.2h0.6M159.0,232.4h0.6M166.1,225.7h0.6M168.2,224.8h0.6M159.5,227.3h0.6M159.9,226.0h0.6M158.5,230.4h0.6M169.1,226.7h0.6M168.2,229.0h0.6M159.6,228.6h0.6M162.7,225.0h0.6M162.7,225.8h0.6M173.3,221.0h0.6M157.1,229.3h0.6M158.7,220.6h0.6M162.9,230.7h0.6M164.0,231.9h0.6M168.1,228.0h0.6M162.5,226.0h0.6M167.0,225.7h0.6M162.2,221.3h0.6M161.9,228.7h0.6M171.8,223.2h0.6M159.0,227.3h0.6M161.4,230.7h0.6M156.3,229.9h0.6M159.4,228.3h0.6M166.2,228.1h0.6M159.9,222.6h0.6M161.9,230.5h0.6M158.5,227.8h0.6M163.6,232.2h0.6M160.1,222.6h0.6M159.7,222.9h0.6M163.1,227.5h0.6M166.7,226.8h0.6M163.2,228.7h0.6M163.8,223.2h0.6M165.1,230.9h0.6M161.7,230.2h0.6M164.3,230.9h0.6M158.4,226.1h0.6M163.5,230.0h0.6M164.4,229.1h0.6M159.2,231.6h0.6M163.9,231.5h0.6M158.3,228.4h0.6M159.2,227.0h0.6M162.6,229.1h0.6M157.6,219.7h0.6M159.2,229.0h0.6M159.0,228.8h0.6M160.2,226.3h0.6M164.3,230.9h0.6M160.9,227.9h0.6M163.7,225.6h0.6M158.9,230.0h0.6M163.6,227.1h0.6M159.2,228.6h0.6M157.5,227.1h0.6M160.6,223.6h0.6M162.8,229.4h0.6M164.0,225.4h0.6M157.8,226.5h0.6M157.8,231.7h0.6M158.6,227.4h0.6M161.7,228.8h0.6M165.0,226.1h0.6M163.5,228.3h0.6M158.1,228.3h0.6M157.5,230.9h0.6M159.3,229.8h0.6M164.6,226.9h0.6M158.8,228.2h0.6M158.4,229.6h0.6M161.7,226.6h0.6M159.4,229.3h0.6M157.4,231.0h0.6M159.1,227.6h0.6M158.8,230.9h0.6M163.4,230.3h0.6M162.9,228.2h0.6M165.7,229.2h0.6M169.0,222.5h0.6M169.9,221.3h0.6M165.0,222.0h0.6M173.5,215.9h0.6M158.3,228.7h0.6M175.1,218.8h0.6M164.9,225.2h0.6M165.2,221.2h0.6M165.9,224.5h0.6M170.3,218.5h0.6M157.2,228.1h0.6M168.2,222.3h0.6M167.6,222.9h0.6M164.4,222.8h0.6M168.9,222.3h0.6M170.1,222.8h0.6M160.4,224.4h0.6M162.0,230.6h0.6M163.8,226.3h0.6M167.4,224.0h0.6M178.5,213.3h0.6M173.1,216.7h0.6M159.3,228.4h0.6M156.3,226.5h0.6M165.6,219.2h0.6M169.3,219.3h0.6M180.4,207.4h0.6M170.5,219.2h0.6M166.0,221.1h0.6M175.0,211.2h0.6M159.2,225.9h0.6M168.6,214.6h0.6M171.9,219.5h0.6M175.5,210.2h0.6" stroke="#000" stroke-width="0.6" opacity="0.28" fill="none"/>
<rect x="13.20" y="237.90" width="28.30" height="28.00" fill="#fff" stroke="#d4d4d4" stroke-width="0.5"/>
<line x1="13.20" y1="237.90" x2="13.20" y2="265.90" stroke="#999" stroke-width="0.6"/>
<line x1="13.20" y1="265.90" x2="41.50" y2="265.90" stroke="#bdbdbd" stroke-width="0.5"/>
<line x1="21.20" y1="237.10" x2="21.20" y2="265.90" stroke="#858585" stroke-width="0.6"/>
<line x1="13.20" y1="257.50" x2="41.50" y2="257.50" stroke="#858585" stroke-width="0.6"/>
<line x1="13.70" y1="265.90" x2="13.70" y2="267.10" stroke="#bbb" stroke-width="0.5"/>
<line x1="12.00" y1="238.90" x2="13.20" y2="238.90" stroke="#bbb" stroke-width="0.5"/>
<line x1="20.60" y1="265.90" x2="20.60" y2="267.10" stroke="#bbb" stroke-width="0.5"/>
<line x1="12.00" y1="245.50" x2="13.20" y2="245.50" stroke="#bbb" stroke-width="0.5"/>
<line x1="27.50" y1="265.90" x2="27.50" y2="267.10" stroke="#bbb" stroke-width="0.5"/>
<line x1="12.00" y1="252.10" x2="13.20" y2="252.10" stroke="#bbb" stroke-width="0.5"/>
<line x1="34.40" y1="265.90" x2="34.40" y2="267.10" stroke="#bbb" stroke-width="0.5"/>
<line x1="12.00" y1="258.70" x2="13.20" y2="258.70" stroke="#bbb" stroke-width="0.5"/>
<line x1="41.30" y1="265.90" x2="41.30" y2="267.10" stroke="#bbb" stroke-width="0.5"/>
<line x1="12.00" y1="265.30" x2="13.20" y2="265.30" stroke="#bbb" stroke-width="0.5"/>
<line x1="13.20" y1="236.70" x2="13.20" y2="237.90" stroke="#888" stroke-width="0.8"/>
<line x1="21.20" y1="236.50" x2="21.20" y2="237.90" stroke="#777" stroke-width="0.9"/>
<ellipse cx="18.00" cy="260.40" rx="4.6" ry="3.4" fill="#000" opacity="0.54" filter="url(#bl)"/>
<ellipse cx="18.00" cy="260.40" rx="2.5" ry="1.8" fill="#000" opacity="0.32" filter="url(#bl)"/>
<ellipse cx="23.20" cy="255.90" rx="4" ry="1.2" fill="#000" opacity="0.14" filter="url(#bl)" transform="rotate(-40 23.20 255.90)"/>
<path d="M15.5,262.2h0.6M24.4,257.1h0.6M19.9,254.6h0.6M24.7,260.1h0.6M17.5,264.8h0.6M14.5,260.6h0.6M19.6,259.8h0.6M24.7,258.1h0.6M22.4,264.8h0.6M14.1,258.6h0.6M19.7,259.8h0.6M18.3,258.9h0.6M17.6,262.0h0.6M21.3,257.9h0.6M17.5,257.9h0.6M17.2,255.8h0.6M22.2,262.6h0.6M17.5,258.2h0.6M16.0,258.3h0.6M32.4,256.4h0.6M20.6,255.3h0.6M15.8,260.7h0.6M18.0,258.6h0.6M17.4,259.4h0.6M23.4,260.1h0.6M17.9,258.7h0.6M15.2,258.0h0.6M22.9,261.2h0.6M25.3,263.7h0.6M18.9,259.9h0.6M16.6,255.3h0.6M18.9,262.0h0.6M18.9,258.9h0.6M20.0,263.9h0.6M16.7,262.1h0.6M22.5,258.8h0.6M18.7,258.0h0.6M20.6,259.2h0.6M23.0,257.9h0.6M25.4,259.4h0.6M14.3,257.5h0.6M20.9,257.6h0.6M25.9,264.5h0.6M20.3,255.8h0.6M17.9,258.1h0.6M27.6,258.7h0.6M21.5,264.5h0.6M13.8,259.3h0.6M19.2,261.9h0.6M17.5,263.5h0.6M15.8,259.4h0.6M21.2,258.4h0.6M30.0,258.1h0.6M21.7,263.7h0.6M22.2,259.7h0.6M14.4,259.6h0.6M20.9,260.8h0.6M20.5,262.3h0.6M14.1,257.4h0.6M24.3,258.8h0.6M14.4,257.4h0.6M22.2,256.7h0.6M14.2,263.8h0.6M18.6,260.6h0.6M15.2,259.7h0.6M15.8,260.3h0.6M21.4,256.3h0.6M14.0,253.6h0.6M24.6,260.2h0.6M17.9,260.2h0.6M22.4,261.4h0.6M21.7,259.9h0.6M17.5,260.2h0.6M20.9,260.6h0.6M26.1,264.9h0.6M14.2,260.1h0.6M22.4,259.7h0.6M17.5,259.3h0.6M24.0,252.4h0.6M23.6,263.8h0.6M17.7,262.2h0.6M31.4,257.4h0.6M24.1,260.2h0.6M16.5,258.8h0.6M17.2,256.4h0.6M17.9,262.2h0.6M19.4,261.9h0.6M20.8,263.6h0.6M19.5,260.5h0.6M15.2,261.5h0.6M18.1,258.0h0.6M19.5,258.3h0.6M22.2,262.4h0.6M16.4,261.4h0.6M18.2,259.2h0.6M15.8,257.6h0.6M15.3,261.0h0.6M20.9,259.3h0.6M18.4,261.0h0.6M19.9,261.2h0.6M20.9,261.7h0.6M16.2,261.1h0.6M18.0,261.4h0.6M17.3,261.8h0.6M21.1,259.0h0.6M16.7,260.8h0.6M19.2,260.6h0.6M20.0,258.4h0.6M19.8,262.4h0.6M20.6,261.1h0.6M17.4,261.1h0.6M17.8,257.7h0.6M21.4,257.3h0.6M21.0,256.3h0.6M22.3,256.1h0.6M23.4,255.7h0.6M24.4,256.3h0.6M23.9,255.9h0.6M17.5,256.3h0.6M22.5,257.5h0.6M21.8,256.2h0.6M23.3,251.5h0.6M21.8,259.3h0.6M36.9,242.6h0.6M24.8,252.0h0.6M25.6,249.0h0.6M25.7,254.0h0.6M27.3,254.3h0.6M17.4,255.5h0.6M28.4,250.4h0.6M30.8,247.0h0.6M25.4,256.1h0.6M28.7,250.7h0.6M23.1,252.6h0.6M35.6,243.4h0.6" stroke="#000" stroke-width="0.6" opacity="0.28" fill="none"/>
<rect x="77.50" y="237.90" width="28.30" height="28.00" fill="#fff" stroke="#d4d4d4" stroke-width="0.5"/>
<line x1="77.50" y1="237.90" x2="77.50" y2="265.90" stroke="#999" stroke-width="0.6"/>
<line x1="77.50" y1="265.90" x2="105.80" y2="265.90" stroke="#bdbdbd" stroke-width="0.5"/>
<line x1="85.50" y1="237.10" x2="85.50" y2="265.90" stroke="#858585" stroke-width="0.6"/>
<line x1="77.50" y1="257.50" x2="105.80" y2="257.50" stroke="#858585" stroke-width="0.6"/>
<line x1="78.00" y1="265.90" x2="78.00" y2="267.10" stroke="#bbb" stroke-width="0.5"/>
<line x1="76.30" y1="238.90" x2="77.50" y2="238.90" stroke="#bbb" stroke-width="0.5"/>
<line x1="84.90" y1="265.90" x2="84.90" y2="267.10" stroke="#bbb" stroke-width="0.5"/>
<line x1="76.30" y1="245.50" x2="77.50" y2="245.50" stroke="#bbb" stroke-width="0.5"/>
<line x1="91.80" y1="265.90" x2="91.80" y2="267.10" stroke="#bbb" stroke-width="0.5"/>
<line x1="76.30" y1="252.10" x2="77.50" y2="252.10" stroke="#bbb" stroke-width="0.5"/>
<line x1="98.70" y1="265.90" x2="98.70" y2="267.10" stroke="#bbb" stroke-width="0.5"/>
<line x1="76.30" y1="258.70" x2="77.50" y2="258.70" stroke="#bbb" stroke-width="0.5"/>
<line x1="105.60" y1="265.90" x2="105.60" y2="267.10" stroke="#bbb" stroke-width="0.5"/>
<line x1="76.30" y1="265.30" x2="77.50" y2="265.30" stroke="#bbb" stroke-width="0.5"/>
<line x1="77.50" y1="236.70" x2="77.50" y2="237.90" stroke="#888" stroke-width="0.8"/>
<line x1="85.50" y1="236.50" x2="85.50" y2="237.90" stroke="#777" stroke-width="0.9"/>
<ellipse cx="83.30" cy="259.40" rx="6.6" ry="4.6" fill="#000" opacity="0.5" filter="url(#bl)"/>
<ellipse cx="82.50" cy="259.60" rx="3.4" ry="2.4" fill="#000" opacity="0.45" filter="url(#bl)"/>
<ellipse cx="88.50" cy="253.90" rx="6" ry="1.6" fill="#000" opacity="0.2" filter="url(#bl)" transform="rotate(-40 88.50 253.90)"/>
<ellipse cx="96.80" cy="240.20" rx="1.7" ry="0.9" fill="#000" opacity="0.6" filter="url(#bl2)"/>
<path d="M91.8,263.2h0.6M89.2,254.7h0.6M82.7,257.3h0.6M85.1,259.4h0.6M88.8,259.3h0.6M92.6,255.2h0.6M88.8,255.0h0.6M92.1,258.2h0.6M91.0,257.6h0.6M85.8,264.4h0.6M79.5,257.8h0.6M82.0,264.5h0.6M81.2,257.0h0.6M78.4,258.7h0.6M84.5,252.6h0.6M84.8,254.2h0.6M81.7,263.7h0.6M80.3,251.6h0.6M84.9,264.1h0.6M79.9,262.3h0.6M82.9,256.4h0.6M83.0,260.9h0.6M82.3,260.3h0.6M90.7,258.1h0.6M84.8,256.4h0.6M81.7,261.2h0.6M86.2,252.5h0.6M82.4,264.4h0.6M80.2,250.4h0.6M90.6,252.3h0.6M84.8,261.7h0.6M86.7,256.3h0.6M91.2,252.0h0.6M79.6,260.7h0.6M84.2,255.2h0.6M79.3,257.5h0.6M89.5,260.0h0.6M82.6,259.8h0.6M78.6,265.1h0.6M80.4,257.4h0.6M92.6,260.2h0.6M79.3,257.1h0.6M87.1,257.7h0.6M82.6,260.5h0.6M79.2,265.0h0.6M86.4,261.5h0.6M80.9,263.6h0.6M83.6,265.2h0.6M82.0,260.2h0.6M86.6,251.8h0.6M89.1,260.8h0.6M85.4,251.1h0.6M84.2,257.4h0.6M89.2,262.0h0.6M83.4,259.7h0.6M85.6,260.5h0.6M78.8,262.8h0.6M78.1,259.2h0.6M81.1,254.4h0.6M87.1,259.1h0.6M79.7,262.5h0.6M82.7,261.2h0.6M89.1,258.2h0.6M90.2,263.6h0.6M79.9,263.3h0.6M89.0,258.3h0.6M80.3,260.9h0.6M78.5,253.9h0.6M87.6,260.0h0.6M92.5,257.8h0.6M80.0,254.8h0.6M79.2,259.9h0.6M87.5,265.0h0.6M81.6,256.2h0.6M81.2,257.5h0.6M80.4,257.7h0.6M80.1,258.7h0.6M86.9,262.2h0.6M79.9,254.4h0.6M79.3,258.1h0.6M78.8,263.0h0.6M94.7,257.9h0.6M81.6,257.7h0.6M82.1,258.7h0.6M98.6,254.7h0.6M82.6,256.0h0.6M85.5,257.2h0.6M86.9,254.7h0.6M96.4,260.3h0.6M80.4,254.4h0.6M86.0,257.2h0.6M87.9,257.0h0.6M88.9,260.0h0.6M85.5,260.1h0.6M81.0,257.8h0.6M86.1,262.5h0.6M93.8,254.5h0.6M90.0,259.1h0.6M84.7,256.0h0.6M93.5,255.8h0.6M82.8,256.3h0.6M95.3,264.8h0.6M85.6,257.5h0.6M81.1,254.8h0.6M84.9,254.7h0.6M85.6,256.5h0.6M81.2,255.3h0.6M84.0,262.4h0.6M89.1,258.2h0.6M93.6,260.6h0.6M82.9,250.5h0.6M80.6,261.7h0.6M79.8,255.7h0.6M79.7,259.0h0.6M89.5,257.0h0.6M87.5,261.4h0.6M78.6,255.6h0.6M84.7,264.0h0.6M94.5,259.5h0.6M81.0,257.8h0.6M84.2,255.8h0.6M90.5,253.6h0.6M78.3,252.2h0.6M87.2,258.6h0.6M88.5,262.1h0.6M79.7,259.3h0.6M80.6,261.0h0.6M86.7,264.6h0.6M85.9,264.0h0.6M97.7,260.5h0.6M83.8,260.6h0.6M84.2,253.8h0.6M79.0,258.7h0.6M84.3,255.7h0.6M82.6,256.3h0.6M78.3,263.0h0.6M91.6,261.9h0.6M82.0,257.0h0.6M92.9,264.4h0.6M84.7,258.4h0.6M83.3,261.2h0.6M83.3,261.3h0.6M78.6,259.6h0.6M81.1,264.0h0.6M82.2,258.5h0.6M82.6,259.9h0.6M81.8,260.6h0.6M80.7,255.8h0.6M84.7,259.6h0.6M87.8,260.5h0.6M80.3,260.8h0.6M89.5,262.0h0.6M79.0,259.4h0.6M84.3,257.3h0.6M83.9,261.7h0.6M85.1,258.1h0.6M80.3,257.1h0.6M78.4,260.3h0.6M82.6,262.5h0.6M83.4,258.9h0.6M83.0,259.5h0.6M79.3,257.3h0.6M84.5,257.5h0.6M84.4,261.0h0.6M81.3,256.0h0.6M83.8,262.7h0.6M79.9,256.8h0.6M86.0,259.9h0.6M80.5,262.3h0.6M81.6,260.6h0.6M81.2,258.0h0.6M83.2,257.7h0.6M86.4,262.1h0.6M89.4,261.8h0.6M87.6,260.2h0.6M81.1,260.7h0.6M79.5,261.2h0.6M81.1,260.2h0.6M79.8,259.3h0.6M85.6,259.1h0.6M80.4,260.2h0.6M85.3,259.2h0.6M78.8,256.2h0.6M78.3,262.0h0.6M82.2,260.7h0.6M85.9,260.3h0.6M84.0,258.5h0.6M82.2,260.9h0.6M79.1,259.3h0.6M88.9,257.8h0.6M90.2,255.0h0.6M87.6,254.9h0.6M80.1,262.4h0.6M87.8,256.9h0.6M87.8,253.8h0.6M90.2,252.1h0.6M87.8,257.5h0.6M92.8,250.5h0.6M92.8,251.9h0.6M91.0,251.9h0.6M89.2,254.1h0.6M91.3,252.3h0.6M86.1,255.8h0.6M89.5,251.2h0.6M89.2,254.8h0.6M89.0,253.0h0.6M88.0,253.5h0.6M92.4,250.0h0.6M80.3,258.5h0.6M90.0,253.1h0.6M85.3,254.1h0.6M87.1,253.5h0.6M85.7,256.3h0.6M85.5,257.0h0.6M84.9,256.0h0.6M88.9,256.4h0.6M83.0,256.9h0.6M87.0,258.5h0.6M90.2,249.7h0.6M90.1,252.4h0.6M99.2,248.0h0.6M94.9,257.2h0.6M94.5,246.6h0.6M83.0,258.4h0.6M84.6,255.3h0.6M89.5,251.6h0.6M95.7,250.5h0.6M93.2,248.6h0.6M86.4,256.9h0.6" stroke="#000" stroke-width="0.6" opacity="0.28" fill="none"/>
<rect x="117.40" y="237.90" width="28.30" height="28.00" fill="#fff" stroke="#d4d4d4" stroke-width="0.5"/>
<line x1="117.40" y1="237.90" x2="117.40" y2="265.90" stroke="#999" stroke-width="0.6"/>
<line x1="117.40" y1="265.90" x2="145.70" y2="265.90" stroke="#bdbdbd" stroke-width="0.5"/>
<line x1="125.40" y1="237.10" x2="125.40" y2="265.90" stroke="#858585" stroke-width="0.6"/>
<line x1="117.40" y1="257.50" x2="145.70" y2="257.50" stroke="#858585" stroke-width="0.6"/>
<line x1="117.90" y1="265.90" x2="117.90" y2="267.10" stroke="#bbb" stroke-width="0.5"/>
<line x1="116.20" y1="238.90" x2="117.40" y2="238.90" stroke="#bbb" stroke-width="0.5"/>
<line x1="124.80" y1="265.90" x2="124.80" y2="267.10" stroke="#bbb" stroke-width="0.5"/>
<line x1="116.20" y1="245.50" x2="117.40" y2="245.50" stroke="#bbb" stroke-width="0.5"/>
<line x1="131.70" y1="265.90" x2="131.70" y2="267.10" stroke="#bbb" stroke-width="0.5"/>
<line x1="116.20" y1="252.10" x2="117.40" y2="252.10" stroke="#bbb" stroke-width="0.5"/>
<line x1="138.60" y1="265.90" x2="138.60" y2="267.10" stroke="#bbb" stroke-width="0.5"/>
<line x1="116.20" y1="258.70" x2="117.40" y2="258.70" stroke="#bbb" stroke-width="0.5"/>
<line x1="145.50" y1="265.90" x2="145.50" y2="267.10" stroke="#bbb" stroke-width="0.5"/>
<line x1="116.20" y1="265.30" x2="117.40" y2="265.30" stroke="#bbb" stroke-width="0.5"/>
<line x1="117.40" y1="236.70" x2="117.40" y2="237.90" stroke="#888" stroke-width="0.8"/>
<line x1="125.40" y1="236.50" x2="125.40" y2="237.90" stroke="#777" stroke-width="0.9"/>
<ellipse cx="122.40" cy="259.40" rx="5.8" ry="4.4" fill="#000" opacity="0.5" filter="url(#bl)"/>
<ellipse cx="121.80" cy="259.60" rx="3.0" ry="2.2" fill="#000" opacity="0.45" filter="url(#bl)"/>
<ellipse cx="126.40" cy="254.90" rx="5" ry="1.4" fill="#000" opacity="0.16" filter="url(#bl)" transform="rotate(-40 126.40 254.90)"/>
<ellipse cx="135.00" cy="240.70" rx="2.0" ry="1.0" fill="#000" opacity="0.2" filter="url(#bl2)"/>
<path d="M119.4,252.9h0.6M119.1,256.0h0.6M131.7,257.8h0.6M128.6,259.2h0.6M124.6,256.8h0.6M122.0,252.8h0.6M132.1,256.4h0.6M125.6,257.1h0.6M123.9,254.8h0.6M120.4,263.1h0.6M125.6,251.7h0.6M127.0,254.2h0.6M123.9,261.5h0.6M118.9,258.2h0.6M121.1,261.1h0.6M127.3,264.9h0.6M121.0,262.5h0.6M121.7,259.8h0.6M133.3,260.1h0.6M122.3,259.5h0.6M126.2,258.7h0.6M122.4,260.3h0.6M129.4,263.2h0.6M122.5,262.8h0.6M127.6,258.6h0.6M133.9,258.8h0.6M130.0,265.1h0.6M131.0,260.3h0.6M125.5,253.4h0.6M126.3,263.7h0.6M121.8,263.6h0.6M131.3,255.8h0.6M127.2,257.6h0.6M126.4,261.7h0.6M118.9,250.1h0.6M131.2,256.6h0.6M122.7,255.8h0.6M128.3,263.1h0.6M123.9,256.5h0.6M124.5,261.0h0.6M140.1,255.0h0.6M120.1,257.5h0.6M125.8,258.9h0.6M127.8,261.5h0.6M128.7,259.9h0.6M123.8,253.9h0.6M122.8,263.0h0.6M118.4,255.5h0.6M119.1,264.5h0.6M126.1,259.3h0.6M122.0,260.0h0.6M123.9,260.2h0.6M126.2,254.7h0.6M121.6,259.1h0.6M119.2,261.6h0.6M120.9,258.3h0.6M129.6,263.5h0.6M124.7,254.0h0.6M128.0,263.2h0.6M133.6,250.5h0.6M122.5,258.1h0.6M128.3,255.1h0.6M127.8,251.5h0.6M122.5,264.9h0.6M119.1,261.8h0.6M122.9,253.6h0.6M119.0,264.0h0.6M128.8,257.0h0.6M128.5,256.6h0.6M123.7,259.4h0.6M120.3,248.5h0.6M118.7,249.7h0.6M127.2,259.7h0.6M123.8,258.4h0.6M122.7,258.4h0.6M122.8,263.5h0.6M119.1,264.3h0.6M131.6,257.3h0.6M126.4,258.5h0.6M125.6,264.2h0.6M124.3,249.7h0.6M126.7,259.8h0.6M124.2,258.7h0.6M120.9,261.5h0.6M125.5,262.0h0.6M120.2,254.2h0.6M129.5,264.6h0.6M119.3,259.3h0.6M126.8,252.4h0.6M123.9,256.6h0.6M133.5,259.5h0.6M123.5,257.7h0.6M123.4,252.2h0.6M127.3,259.0h0.6M128.6,251.3h0.6M119.2,265.2h0.6M118.1,252.0h0.6M118.4,258.0h0.6M122.3,264.6h0.6M125.5,257.4h0.6M119.7,253.5h0.6M129.3,264.4h0.6M122.9,255.8h0.6M126.1,261.4h0.6M123.2,254.8h0.6M123.7,257.1h0.6M126.4,261.8h0.6M124.8,257.7h0.6M130.7,262.5h0.6M129.3,262.8h0.6M126.0,261.0h0.6M127.3,260.1h0.6M120.2,252.3h0.6M126.2,262.4h0.6M121.2,262.7h0.6M122.1,256.5h0.6M120.4,262.4h0.6M127.6,254.9h0.6M133.9,254.7h0.6M125.2,257.0h0.6M122.3,261.3h0.6M125.6,263.1h0.6M128.7,259.1h0.6M126.6,256.9h0.6M128.0,263.6h0.6M121.6,249.9h0.6M119.9,256.4h0.6M132.6,254.6h0.6M128.0,257.3h0.6M123.3,259.3h0.6M125.4,258.2h0.6M123.8,258.0h0.6M122.4,259.6h0.6M124.8,256.4h0.6M118.0,262.4h0.6M122.9,263.0h0.6M118.9,260.0h0.6M123.5,263.1h0.6M121.7,258.7h0.6M123.8,259.4h0.6M119.7,261.1h0.6M125.6,258.6h0.6M120.9,260.3h0.6M124.9,260.7h0.6M119.1,258.5h0.6M124.7,259.4h0.6M120.0,261.4h0.6M125.0,264.0h0.6M118.8,258.2h0.6M119.9,260.3h0.6M120.5,261.8h0.6M120.0,259.1h0.6M123.4,260.0h0.6M119.0,262.6h0.6M123.4,258.6h0.6M122.4,257.4h0.6M118.4,259.0h0.6M122.8,259.8h0.6M119.6,256.8h0.6M122.8,258.0h0.6M125.1,260.7h0.6M120.7,258.4h0.6M125.0,260.3h0.6M126.3,260.3h0.6M120.2,258.4h0.6M119.8,260.1h0.6M122.5,260.8h0.6M127.1,252.5h0.6M124.9,254.6h0.6M127.0,252.2h0.6M123.6,255.8h0.6M124.0,256.5h0.6M131.6,250.2h0.6M121.1,258.9h0.6M129.5,253.2h0.6M128.9,256.1h0.6M130.4,251.7h0.6M129.6,250.0h0.6M125.1,254.6h0.6M128.4,256.0h0.6M126.0,257.9h0.6M124.0,259.3h0.6M134.4,244.7h0.6M128.3,254.1h0.6M140.7,245.6h0.6M128.4,252.0h0.6M125.2,254.4h0.6M134.9,247.3h0.6M136.3,249.5h0.6M120.2,264.1h0.6M134.1,245.3h0.6M134.3,246.4h0.6M128.2,249.2h0.6M123.6,259.2h0.6M120.3,262.1h0.6M133.6,253.7h0.6" stroke="#000" stroke-width="0.6" opacity="0.28" fill="none"/>
<rect x="155.40" y="237.90" width="28.30" height="28.00" fill="#fff" stroke="#d4d4d4" stroke-width="0.5"/>
<line x1="155.40" y1="237.90" x2="155.40" y2="265.90" stroke="#999" stroke-width="0.6"/>
<line x1="155.40" y1="265.90" x2="183.70" y2="265.90" stroke="#bdbdbd" stroke-width="0.5"/>
<line x1="163.40" y1="237.10" x2="163.40" y2="265.90" stroke="#858585" stroke-width="0.6"/>
<line x1="155.40" y1="257.50" x2="183.70" y2="257.50" stroke="#858585" stroke-width="0.6"/>
<line x1="155.90" y1="265.90" x2="155.90" y2="267.10" stroke="#bbb" stroke-width="0.5"/>
<line x1="154.20" y1="238.90" x2="155.40" y2="238.90" stroke="#bbb" stroke-width="0.5"/>
<line x1="162.80" y1="265.90" x2="162.80" y2="267.10" stroke="#bbb" stroke-width="0.5"/>
<line x1="154.20" y1="245.50" x2="155.40" y2="245.50" stroke="#bbb" stroke-width="0.5"/>
<line x1="169.70" y1="265.90" x2="169.70" y2="267.10" stroke="#bbb" stroke-width="0.5"/>
<line x1="154.20" y1="252.10" x2="155.40" y2="252.10" stroke="#bbb" stroke-width="0.5"/>
<line x1="176.60" y1="265.90" x2="176.60" y2="267.10" stroke="#bbb" stroke-width="0.5"/>
<line x1="154.20" y1="258.70" x2="155.40" y2="258.70" stroke="#bbb" stroke-width="0.5"/>
<line x1="183.50" y1="265.90" x2="183.50" y2="267.10" stroke="#bbb" stroke-width="0.5"/>
<line x1="154.20" y1="265.30" x2="155.40" y2="265.30" stroke="#bbb" stroke-width="0.5"/>
<line x1="155.40" y1="236.70" x2="155.40" y2="237.90" stroke="#888" stroke-width="0.8"/>
<line x1="163.40" y1="236.50" x2="163.40" y2="237.90" stroke="#777" stroke-width="0.9"/>
<ellipse cx="163.80" cy="257.50" rx="7.2" ry="3.7" fill="#000" opacity="0.52" filter="url(#bl)" transform="rotate(-28 163.80 257.50)"/>
<ellipse cx="163.00" cy="257.90" rx="3.8" ry="2.0" fill="#000" opacity="0.45" filter="url(#bl)" transform="rotate(-28 163.00 257.90)"/>
<ellipse cx="169.40" cy="249.90" rx="5" ry="1.6" fill="#000" opacity="0.2" filter="url(#bl)" transform="rotate(-42 169.40 249.90)"/>
<ellipse cx="175.20" cy="239.40" rx="2.0" ry="0.9" fill="#000" opacity="0.85" filter="url(#bl2)"/>
<path d="M173.1,257.0h0.6M166.0,257.8h0.6M165.7,261.3h0.6M165.6,264.7h0.6M167.9,254.1h0.6M161.2,252.7h0.6M159.0,258.9h0.6M176.9,247.4h0.6M169.3,254.9h0.6M163.1,260.3h0.6M175.6,252.3h0.6M163.7,258.2h0.6M166.9,254.0h0.6M165.3,258.6h0.6M162.4,259.7h0.6M166.9,258.6h0.6M157.2,259.0h0.6M163.2,262.4h0.6M162.6,251.8h0.6M163.7,252.6h0.6M158.7,260.8h0.6M174.7,257.9h0.6M161.2,257.7h0.6M173.5,248.6h0.6M173.5,253.6h0.6M166.4,261.0h0.6M165.3,253.5h0.6M169.0,260.0h0.6M169.8,260.1h0.6M168.8,255.7h0.6M167.0,257.3h0.6M159.9,259.1h0.6M163.8,255.8h0.6M167.6,257.5h0.6M162.6,253.7h0.6M168.2,253.7h0.6M166.2,254.5h0.6M174.6,256.9h0.6M162.6,251.6h0.6M161.1,257.8h0.6M166.3,255.7h0.6M163.2,251.6h0.6M162.3,263.8h0.6M156.7,264.8h0.6M178.4,252.2h0.6M163.4,262.5h0.6M171.0,254.4h0.6M175.9,254.8h0.6M159.4,256.1h0.6M177.6,248.6h0.6M166.0,255.9h0.6M158.5,254.2h0.6M162.8,257.6h0.6M168.7,252.9h0.6M164.0,258.4h0.6M167.4,254.1h0.6M167.2,256.2h0.6M173.6,252.1h0.6M165.5,258.7h0.6M169.5,250.9h0.6M160.6,258.2h0.6M170.1,254.2h0.6M178.2,255.9h0.6M166.9,250.4h0.6M173.5,254.0h0.6M156.9,261.4h0.6M169.8,258.1h0.6M164.0,255.4h0.6M167.1,252.8h0.6M164.6,260.0h0.6M156.4,261.1h0.6M167.9,255.1h0.6M169.3,254.9h0.6M163.4,259.6h0.6M162.6,258.6h0.6M169.0,252.5h0.6M168.8,250.6h0.6M159.8,253.0h0.6M163.2,263.9h0.6M167.9,260.2h0.6M167.9,258.5h0.6M166.0,249.9h0.6M166.7,255.7h0.6M165.3,258.6h0.6M159.5,253.3h0.6M170.3,251.3h0.6M157.5,256.4h0.6M160.6,258.3h0.6M158.9,262.0h0.6M157.6,262.9h0.6M161.2,261.9h0.6M159.3,261.6h0.6M166.3,255.9h0.6M173.7,252.9h0.6M159.7,262.3h0.6M158.1,258.5h0.6M164.2,258.0h0.6M171.0,246.9h0.6M164.1,261.7h0.6M163.4,259.0h0.6M170.8,249.0h0.6M165.3,259.7h0.6M157.6,254.1h0.6M158.2,261.2h0.6M167.9,262.4h0.6M169.1,248.7h0.6M171.4,257.0h0.6M173.1,252.0h0.6M160.8,259.7h0.6M173.9,254.5h0.6M175.0,254.6h0.6M158.7,256.3h0.6M172.3,247.2h0.6M161.2,257.6h0.6M157.5,258.6h0.6M167.6,264.6h0.6M162.6,256.1h0.6M166.0,259.9h0.6M158.4,258.8h0.6M170.2,259.9h0.6M168.5,253.9h0.6M161.0,257.8h0.6M157.9,263.6h0.6M159.1,257.2h0.6M167.0,256.2h0.6M160.0,258.6h0.6M163.1,263.1h0.6M168.5,252.2h0.6M165.8,261.7h0.6M165.0,263.7h0.6M167.5,258.1h0.6M166.7,258.2h0.6M167.5,257.6h0.6M162.2,261.8h0.6M162.5,254.2h0.6M158.1,261.2h0.6M162.3,249.8h0.6M161.2,261.1h0.6M174.7,257.9h0.6M159.8,264.4h0.6M157.1,262.2h0.6M165.8,258.8h0.6M161.2,264.0h0.6M163.4,257.7h0.6M160.5,255.1h0.6M168.6,256.2h0.6M169.5,261.7h0.6M158.2,259.4h0.6M165.2,260.1h0.6M164.2,260.9h0.6M163.7,250.8h0.6M156.5,253.5h0.6M161.5,257.1h0.6M167.6,256.2h0.6M165.4,261.5h0.6M165.3,251.9h0.6M160.3,260.6h0.6M173.5,251.6h0.6M163.2,258.8h0.6M168.3,254.8h0.6M164.9,255.3h0.6M159.3,256.8h0.6M166.8,253.8h0.6M167.7,257.0h0.6M165.2,246.4h0.6M156.2,256.9h0.6M164.1,260.4h0.6M181.2,254.2h0.6M167.6,256.3h0.6M162.3,259.4h0.6M157.0,263.0h0.6M163.6,258.9h0.6M158.8,257.8h0.6M161.0,258.9h0.6M163.8,256.7h0.6M164.7,258.4h0.6M159.3,259.7h0.6M157.7,259.6h0.6M165.2,255.2h0.6M169.2,255.6h0.6M165.9,256.6h0.6M166.6,258.3h0.6M162.9,256.9h0.6M163.0,262.0h0.6M162.0,257.5h0.6M159.3,256.3h0.6M161.7,259.3h0.6M160.8,257.5h0.6M164.7,258.0h0.6M161.9,259.1h0.6M160.7,260.9h0.6M159.6,259.0h0.6M163.1,257.0h0.6M161.3,263.2h0.6M166.2,252.5h0.6M162.3,255.6h0.6M162.8,255.3h0.6M165.3,257.8h0.6M169.4,257.0h0.6M162.4,260.2h0.6M161.5,258.5h0.6M159.9,255.9h0.6M163.1,253.6h0.6M162.7,259.1h0.6M162.0,255.1h0.6M161.6,260.1h0.6M167.8,258.7h0.6M157.7,261.7h0.6M162.2,259.9h0.6M157.6,260.5h0.6M164.6,255.7h0.6M161.0,256.9h0.6M165.3,253.9h0.6M159.9,258.9h0.6M163.8,261.9h0.6M169.5,248.1h0.6M171.7,248.5h0.6M170.3,249.0h0.6M169.8,247.2h0.6M164.8,253.2h0.6M166.3,254.1h0.6M177.3,245.2h0.6M171.3,248.9h0.6M165.8,250.6h0.6M169.8,246.6h0.6M170.3,248.8h0.6M172.0,247.6h0.6M169.2,248.9h0.6M163.1,254.9h0.6M172.8,248.9h0.6M173.2,244.5h0.6M166.9,253.6h0.6M170.4,254.1h0.6M169.0,247.3h0.6M169.0,253.3h0.6M163.3,255.7h0.6M166.2,256.0h0.6M169.4,249.4h0.6M169.0,245.4h0.6M161.3,258.7h0.6M168.9,251.1h0.6M164.2,250.8h0.6M169.0,254.1h0.6M159.9,260.7h0.6M169.1,252.2h0.6M171.6,255.1h0.6M172.9,245.0h0.6M162.9,254.1h0.6M181.3,242.4h0.6M175.9,246.5h0.6M166.9,256.3h0.6" stroke="#000" stroke-width="0.6" opacity="0.28" fill="none"/>
<path d="M54.2,146.20 L54.2,161.30 L72.6,161.30" fill="none" stroke="#111" stroke-width="1.4"/>
<polygon points="54.2,143.20 51.800000000000004,147.80 56.6,147.80" fill="#111"/>
<polygon points="75.6,161.30 71.0,158.90 71.0,163.70" fill="#111"/>
<text x="50.00" y="154.20" font-size="6.8" text-anchor="middle" font-weight="normal" fill="#222" stroke="#222" stroke-width="0.22" transform="rotate(-90 50.0 154.2)">CD3</text>
<text x="54.60" y="171.40" font-size="6.8" text-anchor="start" font-weight="normal" fill="#222" stroke="#222" stroke-width="0.22">NK1.1</text>
<path d="M54.2,179.20 L54.2,194.20 L72.6,194.20" fill="none" stroke="#111" stroke-width="1.4"/>
<polygon points="54.2,176.20 51.800000000000004,180.80 56.6,180.80" fill="#111"/>
<polygon points="75.6,194.20 71.0,191.80 71.0,196.60" fill="#111"/>
<text x="50.00" y="186.00" font-size="6.8" text-anchor="middle" font-weight="normal" fill="#222" stroke="#222" stroke-width="0.22" transform="rotate(-90 50.0 186.0)">CD28</text>
<text x="54.60" y="203.30" font-size="6.8" text-anchor="start" font-weight="normal" fill="#222" stroke="#222" stroke-width="0.22">CD8</text>
<path d="M54.2,210.20 L54.2,226.00 L72.6,226.00" fill="none" stroke="#111" stroke-width="1.4"/>
<polygon points="54.2,207.20 51.800000000000004,211.80 56.6,211.80" fill="#111"/>
<polygon points="75.6,226.00 71.0,223.60 71.0,228.40" fill="#111"/>
<text x="50.00" y="218.20" font-size="6.8" text-anchor="middle" font-weight="normal" fill="#222" stroke="#222" stroke-width="0.22" transform="rotate(-90 50.0 218.2)">CD4</text>
<text x="54.60" y="234.40" font-size="6.8" text-anchor="start" font-weight="normal" fill="#222" stroke="#222" stroke-width="0.22">CD25</text>
<path d="M54.2,243.00 L54.2,259.00 L72.6,259.00" fill="none" stroke="#111" stroke-width="1.4"/>
<polygon points="54.2,240.00 51.800000000000004,244.60 56.6,244.60" fill="#111"/>
<polygon points="75.6,259.00 71.0,256.60 71.0,261.40" fill="#111"/>
<text x="50.00" y="254.40" font-size="6.8" text-anchor="middle" font-weight="normal" fill="#222" stroke="#222" stroke-width="0.22" transform="rotate(-90 50.0 254.4)">Gr1</text>
<text x="54.60" y="267.30" font-size="6.8" text-anchor="start" font-weight="normal" fill="#222" stroke="#222" stroke-width="0.22">CD11b</text>
<text x="33.20" y="299.60" font-size="7.3" text-anchor="middle" font-weight="normal" fill="#222" stroke="#222" stroke-width="0.23">CD80</text>
<text x="73.50" y="299.60" font-size="7.3" text-anchor="middle" font-weight="normal" fill="#222" stroke="#222" stroke-width="0.23">CD86</text>
<text x="116.30" y="299.60" font-size="7.3" text-anchor="middle" font-weight="normal" fill="#222" stroke="#222" stroke-width="0.23">MHC class II</text>
<text x="158.60" y="299.60" font-size="7.3" text-anchor="middle" font-weight="normal" fill="#222" stroke="#222" stroke-width="0.23">PIR-A/B</text>
<rect x="14.40" y="302.20" width="36.00" height="26.00" fill="#fff" stroke="#b5b5b5" stroke-width="0.6"/>
<g transform="translate(14.4,0)">
<path d="M0.5,327.8 L2,326 L4,322 L6,316 L7.6,310.5 L8.8,308.6 L10,312 L11,317.5 L12.5,319.6 L14,318.6 L15,319.4 L16.5,322 L18.5,323.6 L21,325 L25,326.4 L30,327.4 L35,327.9 Z" fill="#8a8a8a" stroke="#777" stroke-width="0.3"/>
<path d="M2.5,327.5 L5,318 L7.5,308 L9.4,302.8 L11,308 L13,318 L15.5,326 L18,327.6" fill="none" stroke="#9a9a9a" stroke-width="0.5" stroke-dasharray="0.9 0.7"/>
<path d="M1,327.6 L4,324 L6.5,320.5 L9,318.6 L11,320.5 L13.5,320 L16,322.4 L20,324.8 L26,326.6 L34,327.8" fill="none" stroke="#555" stroke-width="0.45"/>
<path d="M1,327.7 L4,325 L7,322 L9.5,320.6 L12,321.6 L14.5,321.4 L17.5,323.4 L22,325.6 L28,327 L35,327.9" fill="none" stroke="#333" stroke-width="0.9"/>
</g>
<line x1="14.40" y1="302.20" x2="14.40" y2="328.20" stroke="#666" stroke-width="0.7"/>
<line x1="14.40" y1="328.20" x2="50.40" y2="328.20" stroke="#666" stroke-width="0.7"/>
<rect x="55.60" y="302.20" width="36.00" height="26.00" fill="#fff" stroke="#b5b5b5" stroke-width="0.6"/>
<g transform="translate(55.6,0)">
<path d="M1.5,327.9 L4,326.5 L6.5,322 L8.5,314 L10,307.5 L11,304.4 L12,307.5 L13.5,314 L15.5,321 L18,325 L22,326.8 L28,327.6 L35,327.9 Z" fill="#8a8a8a" stroke="#777" stroke-width="0.3"/>
<path d="M1,327.6 L3.5,324 L6,316 L8.5,307.5 L9.8,303.2 L11,307 L12.5,315 L14.5,323 L17,327.4" fill="none" stroke="#9a9a9a" stroke-width="0.5" stroke-dasharray="0.9 0.7"/>
<path d="M2,327.8 L5,325.5 L7.5,320 L9.5,312 L11,307 L12.5,312 L14.5,320 L17,325 L22,327.2 L34,327.9" fill="none" stroke="#555" stroke-width="0.45"/>
</g>
<line x1="55.60" y1="302.20" x2="55.60" y2="328.20" stroke="#666" stroke-width="0.7"/>
<line x1="55.60" y1="328.20" x2="91.60" y2="328.20" stroke="#666" stroke-width="0.7"/>
<rect x="96.90" y="302.20" width="36.00" height="26.00" fill="#fff" stroke="#b5b5b5" stroke-width="0.6"/>
<g transform="translate(96.9,0)">
<path d="M1,327.8 L4,326 L7,322 L9.5,316 L11.5,310 L13.5,307 L15,309.5 L16.5,315 L18.5,321.6 L21,325 L24,326.4 L27,326 L30,324.8 L33,324.2 L35.4,325 L35.6,327.9 Z" fill="#8a8a8a" stroke="#777" stroke-width="0.3"/>
<path d="M1.5,327.4 L4,321 L6.5,312 L8.6,305 L9.8,303 L11.5,306.5 L13.5,313 L16,321 L19,326.6 L22,327.6" fill="none" stroke="#9a9a9a" stroke-width="0.5" stroke-dasharray="0.9 0.7"/>
<path d="M1,327.6 L4,325 L7,321.6 L9.5,319.8 L12,321 L15,324 L19,326 L25,326.6 L31,325.4 L35,325.8" fill="none" stroke="#555" stroke-width="0.45"/>
<path d="M1,327.7 L4,325.6 L7,322.8 L9.5,321.4 L12,322.4 L15,325 L19,326.6 L25,327 L31,326 L35,326.4" fill="none" stroke="#333" stroke-width="0.9"/>
</g>
<line x1="96.90" y1="302.20" x2="96.90" y2="328.20" stroke="#666" stroke-width="0.7"/>
<line x1="96.90" y1="328.20" x2="132.90" y2="328.20" stroke="#666" stroke-width="0.7"/>
<rect x="139.00" y="302.20" width="36.00" height="26.00" fill="#fff" stroke="#b5b5b5" stroke-width="0.6"/>
<g transform="translate(139.0,0)">
<path d="M0.8,327.8 L3,325.4 L6,321 L9,317.6 L11.5,315.5 L13.5,313.6 L15.5,313 L17,315.6 L18.5,318.6 L20.5,320 L23,321.8 L26,324 L29.5,325.8 L33,327.2 L35.6,327.9 Z" fill="#8a8a8a" stroke="#777" stroke-width="0.3"/>
<path d="M1.5,327.4 L4,321 L7,311.5 L9.6,304.6 L10.8,303 L12.5,306 L14.5,312.5 L17,321 L19.6,327" fill="none" stroke="#9a9a9a" stroke-width="0.5" stroke-dasharray="0.9 0.7"/>
<path d="M1,327.6 L4,324.6 L7,321 L10,319 L13,319.8 L16,321.6 L20,323.4 L25,325.4 L31,327 L35,327.8" fill="none" stroke="#555" stroke-width="0.45"/>
<path d="M1,327.7 L4,325.2 L7,322.4 L10,320.8 L13,321.6 L16,323.2 L20,324.8 L25,326.2 L31,327.4 L35,327.9" fill="none" stroke="#333" stroke-width="0.9"/>
</g>
<line x1="139.00" y1="302.20" x2="139.00" y2="328.20" stroke="#666" stroke-width="0.7"/>
<line x1="139.00" y1="328.20" x2="175.00" y2="328.20" stroke="#666" stroke-width="0.7"/>
<line x1="30.10" y1="342.10" x2="42.60" y2="342.10" stroke="#555" stroke-width="0.9" stroke-dasharray="2 1.5"/>
<text x="45.20" y="344.50" font-size="6.9" text-anchor="start" font-weight="normal" fill="#222" stroke="#222" stroke-width="0.22" letter-spacing="0.18">Isotype control</text>
<rect x="104.40" y="339.30" width="11.40" height="5.00" fill="#b4b4b4" stroke="#444" stroke-width="0.9"/>
<text x="118.90" y="344.50" font-size="7.2" text-anchor="start" font-weight="normal" fill="#222" stroke="#222" stroke-width="0.23" letter-spacing="0.15">Naïve mice</text>
<line x1="30.10" y1="361.30" x2="42.60" y2="361.30" stroke="#333" stroke-width="0.8"/>
<text x="46.00" y="363.80" font-size="7.3" text-anchor="start" font-weight="normal" fill="#222" stroke="#222" stroke-width="0.23" letter-spacing="0.1">Fon<tspan dy="-2.2" font-size="4.8">-</tspan><tspan dy="2.2"> mice</tspan></text>
<line x1="103.60" y1="361.30" x2="116.80" y2="361.30" stroke="#111" stroke-width="1.5"/>
<text x="117.20" y="363.80" font-size="7.3" text-anchor="start" font-weight="normal" fill="#222" stroke="#222" stroke-width="0.23" letter-spacing="0.1">Fon<tspan dy="-2.2" font-size="4.8">+</tspan><tspan dy="2.2"> mice</tspan></text>
<text x="229.80" y="11.20" font-size="11.6" text-anchor="start" font-weight="bold" fill="#111" stroke="#111" stroke-width="0.37">C</text>
<line x1="249.20" y1="19.10" x2="249.20" y2="87.30" stroke="#222" stroke-width="0.8"/>
<line x1="249.20" y1="87.30" x2="353.80" y2="87.30" stroke="#222" stroke-width="0.8"/>
<line x1="284.00" y1="87.30" x2="284.00" y2="88.80" stroke="#222" stroke-width="0.6"/>
<line x1="318.80" y1="87.30" x2="318.80" y2="88.80" stroke="#222" stroke-width="0.6"/>
<line x1="353.60" y1="87.30" x2="353.60" y2="88.80" stroke="#222" stroke-width="0.6"/>
<line x1="247.50" y1="87.30" x2="249.20" y2="87.30" stroke="#222" stroke-width="0.6"/>
<text x="244.60" y="89.30" font-size="5.7" text-anchor="end" font-weight="normal" fill="#222" stroke="#222" stroke-width="0.18">0</text>
<line x1="247.50" y1="78.78" x2="249.20" y2="78.78" stroke="#222" stroke-width="0.6"/>
<text x="244.60" y="80.77" font-size="5.7" text-anchor="end" font-weight="normal" fill="#222" stroke="#222" stroke-width="0.18">500</text>
<line x1="247.50" y1="70.25" x2="249.20" y2="70.25" stroke="#222" stroke-width="0.6"/>
<text x="244.60" y="72.25" font-size="5.7" text-anchor="end" font-weight="normal" fill="#222" stroke="#222" stroke-width="0.18">1,000</text>
<line x1="247.50" y1="61.73" x2="249.20" y2="61.73" stroke="#222" stroke-width="0.6"/>
<text x="244.60" y="63.72" font-size="5.7" text-anchor="end" font-weight="normal" fill="#222" stroke="#222" stroke-width="0.18">1,500</text>
<line x1="247.50" y1="53.20" x2="249.20" y2="53.20" stroke="#222" stroke-width="0.6"/>
<text x="244.60" y="55.20" font-size="5.7" text-anchor="end" font-weight="normal" fill="#222" stroke="#222" stroke-width="0.18">2,000</text>
<line x1="247.50" y1="44.68" x2="249.20" y2="44.68" stroke="#222" stroke-width="0.6"/>
<text x="244.60" y="46.67" font-size="5.7" text-anchor="end" font-weight="normal" fill="#222" stroke="#222" stroke-width="0.18">2,500</text>
<line x1="247.50" y1="36.15" x2="249.20" y2="36.15" stroke="#222" stroke-width="0.6"/>
<text x="244.60" y="38.15" font-size="5.7" text-anchor="end" font-weight="normal" fill="#222" stroke="#222" stroke-width="0.18">3,000</text>
<line x1="247.50" y1="27.63" x2="249.20" y2="27.63" stroke="#222" stroke-width="0.6"/>
<text x="244.60" y="29.62" font-size="5.7" text-anchor="end" font-weight="normal" fill="#222" stroke="#222" stroke-width="0.18">3,500</text>
<line x1="247.50" y1="19.10" x2="249.20" y2="19.10" stroke="#222" stroke-width="0.6"/>
<text x="244.60" y="21.10" font-size="5.7" text-anchor="end" font-weight="normal" fill="#222" stroke="#222" stroke-width="0.18">4,000</text>
<rect x="286.50" y="15.30" width="10.30" height="11.20" fill="#fff" stroke="#333" stroke-width="0.8"/>
<text x="291.65" y="22.90" font-size="5.2" text-anchor="middle" font-weight="bold" fill="#111" stroke="#111" stroke-width="0.17">LN</text>
<rect x="254.30" y="79.71" width="7.80" height="7.59" fill="#fff" stroke="#222" stroke-width="0.6"/>
<line x1="258.20" y1="79.71" x2="258.20" y2="76.47" stroke="#222" stroke-width="0.7"/>
<line x1="256.80" y1="76.47" x2="259.60" y2="76.47" stroke="#222" stroke-width="0.7"/>
<rect x="262.10" y="54.91" width="7.80" height="32.39" fill="#111" stroke="#222" stroke-width="0.6"/>
<line x1="266.00" y1="54.91" x2="266.00" y2="45.36" stroke="#222" stroke-width="0.7"/>
<line x1="264.60" y1="45.36" x2="267.40" y2="45.36" stroke="#222" stroke-width="0.7"/>
<rect x="269.90" y="64.23" width="7.80" height="23.07" fill="#b8b8b8" stroke="#222" stroke-width="0.6"/>
<line x1="273.80" y1="64.23" x2="273.80" y2="40.87" stroke="#222" stroke-width="0.7"/>
<line x1="272.40" y1="40.87" x2="275.20" y2="40.87" stroke="#222" stroke-width="0.7"/>
<rect x="289.70" y="86.45" width="7.80" height="0.85" fill="#fff" stroke="#222" stroke-width="0.6"/>
<line x1="293.60" y1="86.45" x2="293.60" y2="85.94" stroke="#222" stroke-width="0.7"/>
<line x1="292.20" y1="85.94" x2="295.00" y2="85.94" stroke="#222" stroke-width="0.7"/>
<rect x="297.50" y="65.14" width="7.80" height="22.16" fill="#111" stroke="#222" stroke-width="0.6"/>
<line x1="301.40" y1="65.14" x2="301.40" y2="59.51" stroke="#222" stroke-width="0.7"/>
<line x1="300.00" y1="59.51" x2="302.80" y2="59.51" stroke="#222" stroke-width="0.7"/>
<rect x="305.30" y="80.31" width="7.80" height="6.99" fill="#b8b8b8" stroke="#222" stroke-width="0.6"/>
<line x1="309.20" y1="80.31" x2="309.20" y2="75.54" stroke="#222" stroke-width="0.7"/>
<line x1="307.80" y1="75.54" x2="310.60" y2="75.54" stroke="#222" stroke-width="0.7"/>
<rect x="324.60" y="86.62" width="7.60" height="0.68" fill="#fff" stroke="#222" stroke-width="0.6"/>
<line x1="328.40" y1="86.62" x2="328.40" y2="86.28" stroke="#222" stroke-width="0.7"/>
<line x1="327.00" y1="86.28" x2="329.80" y2="86.28" stroke="#222" stroke-width="0.7"/>
<rect x="332.20" y="85.42" width="7.60" height="1.88" fill="#111" stroke="#222" stroke-width="0.6"/>
<line x1="336.00" y1="85.42" x2="336.00" y2="84.40" stroke="#222" stroke-width="0.7"/>
<line x1="334.60" y1="84.40" x2="337.40" y2="84.40" stroke="#222" stroke-width="0.7"/>
<rect x="339.80" y="86.45" width="7.60" height="0.85" fill="#b8b8b8" stroke="#222" stroke-width="0.6"/>
<line x1="343.60" y1="86.45" x2="343.60" y2="85.94" stroke="#222" stroke-width="0.7"/>
<line x1="342.20" y1="85.94" x2="345.00" y2="85.94" stroke="#222" stroke-width="0.7"/>
<text x="266.80" y="97.60" font-size="5.6" text-anchor="middle" font-weight="normal" fill="#222" stroke="#222" stroke-width="0.18">naïve</text>
<text x="301.20" y="97.60" font-size="5.6" text-anchor="middle" font-weight="normal" fill="#222" stroke="#222" stroke-width="0.18">Fon-</text>
<text x="335.40" y="97.60" font-size="5.6" text-anchor="middle" font-weight="normal" fill="#222" stroke="#222" stroke-width="0.18">Fon+</text>
<text x="300.90" y="107.80" font-size="5.8" text-anchor="middle" font-weight="normal" fill="#222" stroke="#222" stroke-width="0.19" letter-spacing="0.3">conditions of injection</text>
<text x="220.20" y="54.40" font-size="6.7" text-anchor="middle" font-weight="normal" fill="#222" stroke="#222" stroke-width="0.21" transform="rotate(-90 220.2 54.4)">[3H]-T incorporation</text>
<text x="227.60" y="52.80" font-size="6.8" text-anchor="middle" font-weight="normal" fill="#222" stroke="#222" stroke-width="0.22" transform="rotate(-90 227.6 52.8)">(cpm)</text>
<text x="304.90" y="55.30" font-size="6.05" text-anchor="middle" font-weight="normal" fill="#222" stroke="#222" stroke-width="0.19">(0.0187)</text>
<text x="309.80" y="75.00" font-size="8.0" text-anchor="middle" font-weight="normal" fill="#222" stroke="#222" stroke-width="0.26" font-weight="bold">*</text>
<line x1="248.40" y1="121.70" x2="248.40" y2="188.90" stroke="#222" stroke-width="0.8"/>
<line x1="248.40" y1="188.90" x2="350.80" y2="188.90" stroke="#222" stroke-width="0.8"/>
<line x1="282.50" y1="188.90" x2="282.50" y2="190.40" stroke="#222" stroke-width="0.6"/>
<line x1="316.70" y1="188.90" x2="316.70" y2="190.40" stroke="#222" stroke-width="0.6"/>
<line x1="350.70" y1="188.90" x2="350.70" y2="190.40" stroke="#222" stroke-width="0.6"/>
<line x1="246.70" y1="188.90" x2="248.40" y2="188.90" stroke="#222" stroke-width="0.6"/>
<text x="244.20" y="191.18" font-size="6.5" text-anchor="end" font-weight="normal" fill="#222" stroke="#222" stroke-width="0.21">0</text>
<line x1="246.70" y1="180.50" x2="248.40" y2="180.50" stroke="#222" stroke-width="0.6"/>
<text x="244.20" y="182.78" font-size="6.5" text-anchor="end" font-weight="normal" fill="#222" stroke="#222" stroke-width="0.21">500</text>
<line x1="246.70" y1="172.10" x2="248.40" y2="172.10" stroke="#222" stroke-width="0.6"/>
<text x="244.20" y="174.38" font-size="6.5" text-anchor="end" font-weight="normal" fill="#222" stroke="#222" stroke-width="0.21">1,000</text>
<line x1="246.70" y1="163.70" x2="248.40" y2="163.70" stroke="#222" stroke-width="0.6"/>
<text x="244.20" y="165.97" font-size="6.5" text-anchor="end" font-weight="normal" fill="#222" stroke="#222" stroke-width="0.21">1,500</text>
<line x1="246.70" y1="155.30" x2="248.40" y2="155.30" stroke="#222" stroke-width="0.6"/>
<text x="244.20" y="157.58" font-size="6.5" text-anchor="end" font-weight="normal" fill="#222" stroke="#222" stroke-width="0.21">2,000</text>
<line x1="246.70" y1="146.90" x2="248.40" y2="146.90" stroke="#222" stroke-width="0.6"/>
<text x="244.20" y="149.18" font-size="6.5" text-anchor="end" font-weight="normal" fill="#222" stroke="#222" stroke-width="0.21">2,500</text>
<line x1="246.70" y1="138.50" x2="248.40" y2="138.50" stroke="#222" stroke-width="0.6"/>
<text x="244.20" y="140.78" font-size="6.5" text-anchor="end" font-weight="normal" fill="#222" stroke="#222" stroke-width="0.21">3,000</text>
<line x1="246.70" y1="130.10" x2="248.40" y2="130.10" stroke="#222" stroke-width="0.6"/>
<text x="244.20" y="132.38" font-size="6.5" text-anchor="end" font-weight="normal" fill="#222" stroke="#222" stroke-width="0.21">3,500</text>
<line x1="246.70" y1="121.70" x2="248.40" y2="121.70" stroke="#222" stroke-width="0.6"/>
<text x="244.20" y="123.98" font-size="6.5" text-anchor="end" font-weight="normal" fill="#222" stroke="#222" stroke-width="0.21">4,000</text>
<rect x="278.40" y="117.40" width="21.00" height="11.20" fill="#fff" stroke="#333" stroke-width="0.8"/>
<text x="288.90" y="125.00" font-size="6.3" text-anchor="middle" font-weight="bold" fill="#111" stroke="#111" stroke-width="0.20">PBMC</text>
<rect x="253.50" y="185.51" width="7.90" height="3.39" fill="#fff" stroke="#222" stroke-width="0.6"/>
<line x1="257.45" y1="185.51" x2="257.45" y2="183.32" stroke="#222" stroke-width="0.7"/>
<line x1="256.05" y1="183.32" x2="258.85" y2="183.32" stroke="#222" stroke-width="0.7"/>
<rect x="261.40" y="178.48" width="7.90" height="10.42" fill="#111" stroke="#222" stroke-width="0.6"/>
<line x1="265.35" y1="178.48" x2="265.35" y2="172.77" stroke="#222" stroke-width="0.7"/>
<line x1="263.95" y1="172.77" x2="266.75" y2="172.77" stroke="#222" stroke-width="0.7"/>
<rect x="269.30" y="182.52" width="7.90" height="6.38" fill="#b8b8b8" stroke="#222" stroke-width="0.6"/>
<line x1="273.25" y1="182.52" x2="273.25" y2="181.34" stroke="#222" stroke-width="0.7"/>
<line x1="271.85" y1="181.34" x2="274.65" y2="181.34" stroke="#222" stroke-width="0.7"/>
<rect x="287.60" y="188.40" width="7.70" height="0.50" fill="#fff" stroke="#222" stroke-width="0.6"/>
<line x1="291.45" y1="188.40" x2="291.45" y2="188.06" stroke="#222" stroke-width="0.7"/>
<line x1="290.05" y1="188.06" x2="292.85" y2="188.06" stroke="#222" stroke-width="0.7"/>
<rect x="295.30" y="185.54" width="7.70" height="3.36" fill="#111" stroke="#222" stroke-width="0.6"/>
<line x1="299.15" y1="185.54" x2="299.15" y2="183.19" stroke="#222" stroke-width="0.7"/>
<line x1="297.75" y1="183.19" x2="300.55" y2="183.19" stroke="#222" stroke-width="0.7"/>
<rect x="303.00" y="183.19" width="7.70" height="5.71" fill="#b8b8b8" stroke="#222" stroke-width="0.6"/>
<line x1="306.85" y1="183.19" x2="306.85" y2="177.43" stroke="#222" stroke-width="0.7"/>
<line x1="305.45" y1="177.43" x2="308.25" y2="177.43" stroke="#222" stroke-width="0.7"/>
<rect x="320.00" y="188.56" width="7.60" height="0.34" fill="#fff" stroke="#222" stroke-width="0.6"/>
<line x1="323.80" y1="188.56" x2="323.80" y2="188.40" stroke="#222" stroke-width="0.7"/>
<line x1="322.40" y1="188.40" x2="325.20" y2="188.40" stroke="#222" stroke-width="0.7"/>
<rect x="327.60" y="188.06" width="7.60" height="0.84" fill="#111" stroke="#222" stroke-width="0.6"/>
<line x1="331.40" y1="188.06" x2="331.40" y2="187.56" stroke="#222" stroke-width="0.7"/>
<line x1="330.00" y1="187.56" x2="332.80" y2="187.56" stroke="#222" stroke-width="0.7"/>
<rect x="335.20" y="188.40" width="7.60" height="0.50" fill="#b8b8b8" stroke="#222" stroke-width="0.6"/>
<line x1="339.00" y1="188.40" x2="339.00" y2="188.06" stroke="#222" stroke-width="0.7"/>
<line x1="337.60" y1="188.06" x2="340.40" y2="188.06" stroke="#222" stroke-width="0.7"/>
<text x="264.20" y="199.20" font-size="5.6" text-anchor="middle" font-weight="normal" fill="#222" stroke="#222" stroke-width="0.18">naïve</text>
<text x="298.80" y="199.20" font-size="5.6" text-anchor="middle" font-weight="normal" fill="#222" stroke="#222" stroke-width="0.18">Fon-</text>
<text x="331.60" y="199.20" font-size="5.6" text-anchor="middle" font-weight="normal" fill="#222" stroke="#222" stroke-width="0.18">Fon+</text>
<text x="299.20" y="209.80" font-size="6.25" text-anchor="middle" font-weight="bold" fill="#222" stroke="#222" stroke-width="0.20">conditions of injection</text>
<text x="216.60" y="155.20" font-size="5.8" text-anchor="middle" font-weight="bold" fill="#222" stroke="#222" stroke-width="0.19" transform="rotate(-90 216.6 155.2)">[3H]-T incorporation</text>
<text x="225.20" y="155.00" font-size="5.6" text-anchor="middle" font-weight="bold" fill="#222" stroke="#222" stroke-width="0.18" transform="rotate(-90 225.2 155.0)">(cpm)</text>
<line x1="248.00" y1="224.70" x2="248.00" y2="291.50" stroke="#222" stroke-width="0.8"/>
<line x1="248.00" y1="291.50" x2="351.60" y2="291.50" stroke="#222" stroke-width="0.8"/>
<line x1="282.50" y1="291.50" x2="282.50" y2="293.00" stroke="#222" stroke-width="0.6"/>
<line x1="317.00" y1="291.50" x2="317.00" y2="293.00" stroke="#222" stroke-width="0.6"/>
<line x1="351.50" y1="291.50" x2="351.50" y2="293.00" stroke="#222" stroke-width="0.6"/>
<line x1="246.30" y1="291.50" x2="248.00" y2="291.50" stroke="#222" stroke-width="0.6"/>
<text x="244.20" y="293.56" font-size="5.9" text-anchor="end" font-weight="normal" fill="#222" stroke="#222" stroke-width="0.19">0</text>
<line x1="246.30" y1="283.15" x2="248.00" y2="283.15" stroke="#222" stroke-width="0.6"/>
<text x="244.20" y="285.21" font-size="5.9" text-anchor="end" font-weight="normal" fill="#222" stroke="#222" stroke-width="0.19">500</text>
<line x1="246.30" y1="274.80" x2="248.00" y2="274.80" stroke="#222" stroke-width="0.6"/>
<text x="244.20" y="276.87" font-size="5.9" text-anchor="end" font-weight="normal" fill="#222" stroke="#222" stroke-width="0.19">1,000</text>
<line x1="246.30" y1="266.45" x2="248.00" y2="266.45" stroke="#222" stroke-width="0.6"/>
<text x="244.20" y="268.51" font-size="5.9" text-anchor="end" font-weight="normal" fill="#222" stroke="#222" stroke-width="0.19">1,500</text>
<line x1="246.30" y1="258.10" x2="248.00" y2="258.10" stroke="#222" stroke-width="0.6"/>
<text x="244.20" y="260.17" font-size="5.9" text-anchor="end" font-weight="normal" fill="#222" stroke="#222" stroke-width="0.19">2,000</text>
<line x1="246.30" y1="249.75" x2="248.00" y2="249.75" stroke="#222" stroke-width="0.6"/>
<text x="244.20" y="251.81" font-size="5.9" text-anchor="end" font-weight="normal" fill="#222" stroke="#222" stroke-width="0.19">2,500</text>
<line x1="246.30" y1="241.40" x2="248.00" y2="241.40" stroke="#222" stroke-width="0.6"/>
<text x="244.20" y="243.46" font-size="5.9" text-anchor="end" font-weight="normal" fill="#222" stroke="#222" stroke-width="0.19">3,000</text>
<line x1="246.30" y1="233.05" x2="248.00" y2="233.05" stroke="#222" stroke-width="0.6"/>
<text x="244.20" y="235.11" font-size="5.9" text-anchor="end" font-weight="normal" fill="#222" stroke="#222" stroke-width="0.19">3,500</text>
<line x1="246.30" y1="224.70" x2="248.00" y2="224.70" stroke="#222" stroke-width="0.6"/>
<text x="244.20" y="226.76" font-size="5.9" text-anchor="end" font-weight="normal" fill="#222" stroke="#222" stroke-width="0.19">4,000</text>
<rect x="279.30" y="220.20" width="24.20" height="12.00" fill="#fff" stroke="#333" stroke-width="0.8"/>
<text x="291.40" y="228.20" font-size="6.8" text-anchor="middle" font-weight="bold" fill="#111" stroke="#111" stroke-width="0.22">spleen</text>
<rect x="254.30" y="280.14" width="8.10" height="11.36" fill="#fff" stroke="#222" stroke-width="0.6"/>
<line x1="258.35" y1="280.14" x2="258.35" y2="275.80" stroke="#222" stroke-width="0.7"/>
<line x1="256.95" y1="275.80" x2="259.75" y2="275.80" stroke="#222" stroke-width="0.7"/>
<rect x="262.40" y="246.41" width="8.10" height="45.09" fill="#111" stroke="#222" stroke-width="0.6"/>
<line x1="266.45" y1="246.41" x2="266.45" y2="230.54" stroke="#222" stroke-width="0.7"/>
<line x1="265.05" y1="230.54" x2="267.85" y2="230.54" stroke="#222" stroke-width="0.7"/>
<rect x="270.50" y="276.47" width="8.10" height="15.03" fill="#b8b8b8" stroke="#222" stroke-width="0.6"/>
<line x1="274.55" y1="276.47" x2="274.55" y2="268.95" stroke="#222" stroke-width="0.7"/>
<line x1="273.15" y1="268.95" x2="275.95" y2="268.95" stroke="#222" stroke-width="0.7"/>
<rect x="288.90" y="290.50" width="8.10" height="1.00" fill="#fff" stroke="#222" stroke-width="0.6"/>
<line x1="292.95" y1="290.50" x2="292.95" y2="289.83" stroke="#222" stroke-width="0.7"/>
<line x1="291.55" y1="289.83" x2="294.35" y2="289.83" stroke="#222" stroke-width="0.7"/>
<rect x="297.00" y="268.95" width="8.10" height="22.55" fill="#111" stroke="#222" stroke-width="0.6"/>
<line x1="301.05" y1="268.95" x2="301.05" y2="265.62" stroke="#222" stroke-width="0.7"/>
<line x1="299.65" y1="265.62" x2="302.45" y2="265.62" stroke="#222" stroke-width="0.7"/>
<rect x="305.10" y="278.56" width="8.10" height="12.94" fill="#b8b8b8" stroke="#222" stroke-width="0.6"/>
<line x1="309.15" y1="278.56" x2="309.15" y2="263.11" stroke="#222" stroke-width="0.7"/>
<line x1="307.75" y1="263.11" x2="310.55" y2="263.11" stroke="#222" stroke-width="0.7"/>
<rect x="323.10" y="291.17" width="8.20" height="0.33" fill="#fff" stroke="#222" stroke-width="0.6"/>
<line x1="327.20" y1="291.17" x2="327.20" y2="291.00" stroke="#222" stroke-width="0.7"/>
<line x1="325.80" y1="291.00" x2="328.60" y2="291.00" stroke="#222" stroke-width="0.7"/>
<rect x="331.30" y="283.82" width="8.20" height="7.68" fill="#111" stroke="#222" stroke-width="0.6"/>
<line x1="335.40" y1="283.82" x2="335.40" y2="282.65" stroke="#222" stroke-width="0.7"/>
<line x1="334.00" y1="282.65" x2="336.80" y2="282.65" stroke="#222" stroke-width="0.7"/>
<rect x="339.50" y="290.67" width="8.20" height="0.83" fill="#b8b8b8" stroke="#222" stroke-width="0.6"/>
<line x1="343.60" y1="290.67" x2="343.60" y2="290.16" stroke="#222" stroke-width="0.7"/>
<line x1="342.20" y1="290.16" x2="345.00" y2="290.16" stroke="#222" stroke-width="0.7"/>
<text x="264.90" y="301.20" font-size="5.6" text-anchor="middle" font-weight="normal" fill="#222" stroke="#222" stroke-width="0.18">naïve</text>
<text x="300.70" y="301.20" font-size="5.6" text-anchor="middle" font-weight="normal" fill="#222" stroke="#222" stroke-width="0.18">Fon-</text>
<text x="333.50" y="301.20" font-size="5.6" text-anchor="middle" font-weight="normal" fill="#222" stroke="#222" stroke-width="0.18">Fon+</text>
<text x="298.60" y="313.20" font-size="5.65" text-anchor="middle" font-weight="bold" fill="#222" stroke="#222" stroke-width="0.18">conditions of injection</text>
<text x="219.60" y="255.60" font-size="7.2" text-anchor="middle" font-weight="normal" fill="#222" stroke="#222" stroke-width="0.23" transform="rotate(-90 219.6 255.6)">[3H]-T incorporation</text>
<text x="228.00" y="257.40" font-size="6.6" text-anchor="middle" font-weight="normal" fill="#222" stroke="#222" stroke-width="0.21" transform="rotate(-90 228.0 257.4)">[cpm]</text>
<text x="283.80" y="256.30" font-size="5.9" text-anchor="middle" font-weight="normal" fill="#222" stroke="#222" stroke-width="0.19">(0.0023)</text>
<text x="278.60" y="272.40" font-size="13" text-anchor="middle" font-weight="normal" fill="#222" stroke="#222" stroke-width="0.42" font-weight="bold" letter-spacing="1.0">**</text>
<text x="314.70" y="250.40" font-size="5.9" text-anchor="middle" font-weight="normal" fill="#222" stroke="#222" stroke-width="0.19">(0.0467)</text>
<text x="310.40" y="264.60" font-size="9" text-anchor="middle" font-weight="normal" fill="#222" stroke="#222" stroke-width="0.29" font-weight="bold">*</text>
<text x="342.60" y="277.40" font-size="5.9" text-anchor="middle" font-weight="normal" fill="#222" stroke="#222" stroke-width="0.19">(&lt;0.0001)</text>
<text x="351.20" y="292.80" font-size="13" text-anchor="middle" font-weight="normal" fill="#222" stroke="#222" stroke-width="0.42" font-weight="bold" letter-spacing="1.0">***</text>
<defs><pattern id="h4" width="4.2" height="4.6" patternUnits="userSpaceOnUse"><rect width="4.2" height="4.6" fill="#fff"/><path d="M-1.4,5.0 L2.8,-0.4 M2.8,5.0 L7,-0.4 M-5.6,5.0 L-1.4,-0.4" stroke="#111" stroke-width="1.7"/></pattern><pattern id="h5" width="4.2" height="4.6" patternUnits="userSpaceOnUse"><rect width="4.2" height="4.6" fill="#fff"/><path d="M-1.4,-0.4 L2.8,5.0 M2.8,-0.4 L7,5.0 M-5.6,-0.4 L-1.4,5.0" stroke="#111" stroke-width="1.7"/></pattern></defs>
<text x="370.80" y="10.60" font-size="11.0" text-anchor="start" font-weight="bold" fill="#111" stroke="#111" stroke-width="0.35">D</text>
<line x1="394.20" y1="10.30" x2="394.20" y2="359.50" stroke="#222" stroke-width="0.8"/>
<line x1="394.20" y1="359.50" x2="508.50" y2="359.50" stroke="#222" stroke-width="0.8"/>
<line x1="392.60" y1="10.30" x2="394.20" y2="10.30" stroke="#222" stroke-width="0.6"/>
<line x1="392.60" y1="39.40" x2="394.20" y2="39.40" stroke="#222" stroke-width="0.6"/>
<line x1="392.60" y1="68.50" x2="394.20" y2="68.50" stroke="#222" stroke-width="0.6"/>
<line x1="392.60" y1="97.60" x2="394.20" y2="97.60" stroke="#222" stroke-width="0.6"/>
<line x1="392.60" y1="126.70" x2="394.20" y2="126.70" stroke="#222" stroke-width="0.6"/>
<line x1="392.60" y1="155.80" x2="394.20" y2="155.80" stroke="#222" stroke-width="0.6"/>
<line x1="392.60" y1="184.90" x2="394.20" y2="184.90" stroke="#222" stroke-width="0.6"/>
<line x1="392.60" y1="214.00" x2="394.20" y2="214.00" stroke="#222" stroke-width="0.6"/>
<line x1="392.60" y1="243.10" x2="394.20" y2="243.10" stroke="#222" stroke-width="0.6"/>
<line x1="392.60" y1="272.20" x2="394.20" y2="272.20" stroke="#222" stroke-width="0.6"/>
<line x1="392.60" y1="301.30" x2="394.20" y2="301.30" stroke="#222" stroke-width="0.6"/>
<line x1="392.60" y1="330.40" x2="394.20" y2="330.40" stroke="#222" stroke-width="0.6"/>
<line x1="392.60" y1="359.50" x2="394.20" y2="359.50" stroke="#222" stroke-width="0.6"/>
<line x1="394.20" y1="359.50" x2="394.20" y2="361.10" stroke="#222" stroke-width="0.6"/>
<text x="394.20" y="368.30" font-size="5.8" text-anchor="middle" font-weight="normal" fill="#222" stroke="#222" stroke-width="0.19">0</text>
<line x1="422.50" y1="359.50" x2="422.50" y2="361.10" stroke="#222" stroke-width="0.6"/>
<text x="422.50" y="368.30" font-size="5.8" text-anchor="middle" font-weight="normal" fill="#222" stroke="#222" stroke-width="0.19">200</text>
<line x1="450.80" y1="359.50" x2="450.80" y2="361.10" stroke="#222" stroke-width="0.6"/>
<text x="450.80" y="368.30" font-size="5.8" text-anchor="middle" font-weight="normal" fill="#222" stroke="#222" stroke-width="0.19">400</text>
<line x1="479.10" y1="359.50" x2="479.10" y2="361.10" stroke="#222" stroke-width="0.6"/>
<text x="479.10" y="368.30" font-size="5.8" text-anchor="middle" font-weight="normal" fill="#222" stroke="#222" stroke-width="0.19">600</text>
<line x1="507.40" y1="359.50" x2="507.40" y2="361.10" stroke="#222" stroke-width="0.6"/>
<text x="507.40" y="368.30" font-size="5.8" text-anchor="middle" font-weight="normal" fill="#222" stroke="#222" stroke-width="0.19">800</text>
<text x="450.00" y="378.80" font-size="6.1" text-anchor="middle" font-weight="normal" fill="#222" stroke="#222" stroke-width="0.20">plasma concentration (pg/ml)</text>
<text x="389.40" y="27.75" font-size="5.0" text-anchor="end" font-weight="normal" fill="#222" stroke="#222" stroke-width="0.16" letter-spacing="0.1">TGFb</text>
<rect x="394.20" y="13.65" width="6.37" height="4.00" fill="#fff" stroke="#222" stroke-width="0.6"/>
<rect x="394.20" y="18.25" width="21.23" height="4.00" fill="#111" stroke="#222" stroke-width="0.6"/>
<rect x="394.20" y="22.85" width="15.99" height="4.00" fill="#b8b8b8" stroke="#222" stroke-width="0.6"/>
<rect x="394.20" y="27.45" width="15.99" height="4.00" fill="url(#h4)" stroke="#222" stroke-width="0.6"/>
<rect x="394.20" y="32.05" width="54.76" height="4.00" fill="url(#h5)" stroke="#222" stroke-width="0.6"/>
<text x="389.40" y="56.70" font-size="5.0" text-anchor="end" font-weight="normal" fill="#222" stroke="#222" stroke-width="0.16" letter-spacing="0.1">TNFa</text>
<rect x="394.20" y="42.75" width="1.42" height="4.00" fill="#fff" stroke="#222" stroke-width="0.6"/>
<rect x="394.20" y="47.35" width="8.49" height="4.00" fill="#111" stroke="#222" stroke-width="0.6"/>
<rect x="394.20" y="51.95" width="0.85" height="4.00" fill="#b8b8b8" stroke="#222" stroke-width="0.6"/>
<rect x="394.20" y="56.55" width="0.71" height="4.00" fill="url(#h4)" stroke="#222" stroke-width="0.6"/>
<rect x="394.20" y="61.15" width="7.36" height="4.00" fill="url(#h5)" stroke="#222" stroke-width="0.6"/>
<text x="389.40" y="85.64" font-size="5.0" text-anchor="end" font-weight="normal" fill="#222" stroke="#222" stroke-width="0.16" letter-spacing="0.1">IFNg</text>
<rect x="394.20" y="71.85" width="4.25" height="4.00" fill="#fff" stroke="#222" stroke-width="0.6"/>
<rect x="394.20" y="90.25" width="12.17" height="4.00" fill="url(#h5)" stroke="#222" stroke-width="0.6"/>
<text x="389.40" y="114.58" font-size="5.0" text-anchor="end" font-weight="normal" fill="#222" stroke="#222" stroke-width="0.16" letter-spacing="0.1">IL-23</text>
<rect x="394.20" y="100.95" width="6.37" height="4.00" fill="#fff" stroke="#222" stroke-width="0.6"/>
<rect x="394.20" y="110.15" width="10.61" height="4.00" fill="#b8b8b8" stroke="#222" stroke-width="0.6"/>
<rect x="394.20" y="114.75" width="7.78" height="4.00" fill="url(#h4)" stroke="#222" stroke-width="0.6"/>
<rect x="394.20" y="119.35" width="32.55" height="4.00" fill="url(#h5)" stroke="#222" stroke-width="0.6"/>
<text x="389.40" y="143.53" font-size="5.0" text-anchor="end" font-weight="normal" fill="#222" stroke="#222" stroke-width="0.16" letter-spacing="0.1">IL-17</text>
<rect x="394.20" y="130.05" width="16.27" height="4.00" fill="#fff" stroke="#222" stroke-width="0.6"/>
<rect x="394.20" y="143.85" width="0.85" height="4.00" fill="url(#h4)" stroke="#222" stroke-width="0.6"/>
<text x="389.40" y="172.47" font-size="5.0" text-anchor="end" font-weight="normal" fill="#222" stroke="#222" stroke-width="0.16" letter-spacing="0.1">IL-13</text>
<rect x="394.20" y="159.15" width="9.91" height="4.00" fill="#fff" stroke="#222" stroke-width="0.6"/>
<rect x="394.20" y="168.35" width="2.26" height="4.00" fill="#b8b8b8" stroke="#222" stroke-width="0.6"/>
<rect x="394.20" y="172.95" width="48.39" height="4.00" fill="url(#h4)" stroke="#222" stroke-width="0.6"/>
<rect x="394.20" y="177.55" width="18.82" height="4.00" fill="url(#h5)" stroke="#222" stroke-width="0.6"/>
<text x="389.40" y="201.42" font-size="5.0" text-anchor="end" font-weight="normal" fill="#222" stroke="#222" stroke-width="0.16" letter-spacing="0.1">IL-12</text>
<text x="389.40" y="230.36" font-size="5.0" text-anchor="end" font-weight="normal" fill="#222" stroke="#222" stroke-width="0.16" letter-spacing="0.1">IL-10</text>
<rect x="394.20" y="231.15" width="3.96" height="4.00" fill="url(#h4)" stroke="#222" stroke-width="0.6"/>
<text x="389.40" y="259.31" font-size="5.0" text-anchor="end" font-weight="normal" fill="#222" stroke="#222" stroke-width="0.16" letter-spacing="0.1">IL-6</text>
<rect x="394.20" y="246.45" width="84.90" height="4.00" fill="#fff" stroke="#222" stroke-width="0.6"/>
<rect x="394.20" y="255.65" width="75.00" height="4.00" fill="#b8b8b8" stroke="#222" stroke-width="0.6"/>
<rect x="394.20" y="260.25" width="7.78" height="4.00" fill="url(#h4)" stroke="#222" stroke-width="0.6"/>
<rect x="394.20" y="264.85" width="7.78" height="4.00" fill="url(#h5)" stroke="#222" stroke-width="0.6"/>
<text x="389.40" y="288.25" font-size="5.0" text-anchor="end" font-weight="normal" fill="#222" stroke="#222" stroke-width="0.16" letter-spacing="0.1">IL-5</text>
<rect x="394.20" y="275.55" width="0.85" height="4.00" fill="#fff" stroke="#222" stroke-width="0.6"/>
<rect x="394.20" y="284.75" width="0.85" height="4.00" fill="#b8b8b8" stroke="#222" stroke-width="0.6"/>
<rect x="394.20" y="289.35" width="7.08" height="4.00" fill="url(#h4)" stroke="#222" stroke-width="0.6"/>
<rect x="394.20" y="293.95" width="7.08" height="4.00" fill="url(#h5)" stroke="#222" stroke-width="0.6"/>
<text x="389.40" y="317.20" font-size="5.0" text-anchor="end" font-weight="normal" fill="#222" stroke="#222" stroke-width="0.16" letter-spacing="0.1">IL-4</text>
<rect x="394.20" y="304.65" width="18.11" height="4.00" fill="#fff" stroke="#222" stroke-width="0.6"/>
<rect x="394.20" y="309.25" width="9.48" height="4.00" fill="#111" stroke="#222" stroke-width="0.6"/>
<rect x="394.20" y="323.05" width="2.55" height="4.00" fill="url(#h5)" stroke="#222" stroke-width="0.6"/>
<text x="389.40" y="346.14" font-size="5.0" text-anchor="end" font-weight="normal" fill="#222" stroke="#222" stroke-width="0.16" letter-spacing="0.1">IL-2</text>
<rect x="394.20" y="333.75" width="4.25" height="4.00" fill="#fff" stroke="#222" stroke-width="0.6"/>
<rect x="394.20" y="338.35" width="0.85" height="4.00" fill="#111" stroke="#222" stroke-width="0.6"/>
<rect x="394.20" y="347.55" width="3.54" height="4.00" fill="url(#h4)" stroke="#222" stroke-width="0.6"/>
<rect x="394.20" y="352.15" width="9.20" height="4.00" fill="url(#h5)" stroke="#222" stroke-width="0.6"/>
<rect x="480.00" y="8.90" width="36.80" height="45.00" fill="#fff" stroke="#444" stroke-width="0.8"/>
<rect x="482.4" y="12.60" width="3.4" height="3.4" fill="#fff" stroke="#222" stroke-width="0.6"/>
<text x="487.20" y="16.10" font-size="5.4" text-anchor="start" font-weight="normal" fill="#222" stroke="#222" stroke-width="0.17">naïve</text>
<rect x="482.4" y="21.45" width="3.4" height="3.4" fill="#111" stroke="#222" stroke-width="0.6"/>
<text x="487.20" y="24.95" font-size="5.4" text-anchor="start" font-weight="normal" fill="#222" stroke="#222" stroke-width="0.17">Fon- tum-</text>
<rect x="482.4" y="30.30" width="3.4" height="3.4" fill="#b8b8b8" stroke="#222" stroke-width="0.6"/>
<text x="487.20" y="33.80" font-size="5.4" text-anchor="start" font-weight="normal" fill="#222" stroke="#222" stroke-width="0.17">Fon+ tum-</text>
<rect x="482.4" y="39.15" width="3.4" height="3.4" fill="url(#h4)" stroke="#222" stroke-width="0.6"/>
<text x="487.20" y="42.65" font-size="5.4" text-anchor="start" font-weight="normal" fill="#222" stroke="#222" stroke-width="0.17">Fon- tum+</text>
<rect x="482.4" y="48.00" width="3.4" height="3.4" fill="url(#h5)" stroke="#222" stroke-width="0.6"/>
<text x="487.20" y="51.50" font-size="5.4" text-anchor="start" font-weight="normal" fill="#222" stroke="#222" stroke-width="0.17">Fon+ tum+</text>
</svg>
</body></html>
